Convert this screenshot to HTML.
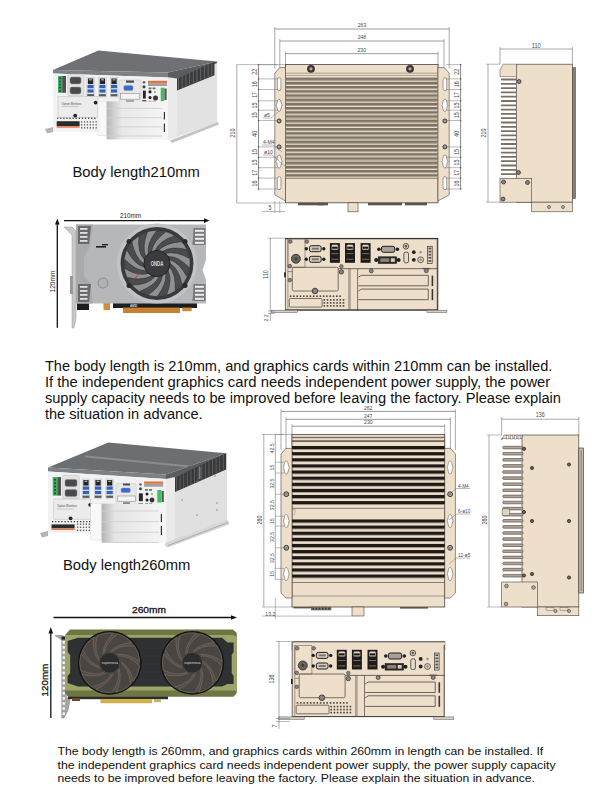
<!DOCTYPE html>
<html><head><meta charset="utf-8"><title>Body length</title>
<style>
html,body{margin:0;padding:0;background:#fff;width:607px;height:794px;overflow:hidden}
svg{display:block;font-family:"Liberation Sans",sans-serif}
</style></head>
<body>
<svg width="607" height="794" viewBox="0 0 607 794">
<rect width="607" height="794" fill="#fff"/>
<line x1="274.8" y1="29" x2="449.2" y2="29" stroke="#707070" stroke-width="0.7"/>
<line x1="274.8" y1="27" x2="274.8" y2="68.5" stroke="#707070" stroke-width="0.6"/>
<line x1="449.2" y1="27" x2="449.2" y2="68.5" stroke="#707070" stroke-width="0.6"/>
<text x="362.0" y="26.8" font-size="6.1" text-anchor="middle" fill="#4a4a4a"  textLength="8.55" lengthAdjust="spacingAndGlyphs">263</text>
<line x1="279.8" y1="41" x2="444.0" y2="41" stroke="#707070" stroke-width="0.7"/>
<line x1="279.8" y1="39" x2="279.8" y2="68.5" stroke="#707070" stroke-width="0.6"/>
<line x1="444.0" y1="39" x2="444.0" y2="68.5" stroke="#707070" stroke-width="0.6"/>
<text x="361.9" y="38.8" font-size="6.1" text-anchor="middle" fill="#4a4a4a"  textLength="8.55" lengthAdjust="spacingAndGlyphs">248</text>
<line x1="285.5" y1="53.7" x2="438.0" y2="53.7" stroke="#707070" stroke-width="0.7"/>
<line x1="285.5" y1="51.7" x2="285.5" y2="68.5" stroke="#707070" stroke-width="0.6"/>
<line x1="438.0" y1="51.7" x2="438.0" y2="68.5" stroke="#707070" stroke-width="0.6"/>
<text x="361.75" y="51.5" font-size="6.1" text-anchor="middle" fill="#4a4a4a"  textLength="8.55" lengthAdjust="spacingAndGlyphs">230</text>
<rect x="285.5" y="64.5" width="152.5" height="138.3" fill="#eedfcb" stroke="#4a4440" stroke-width="0.8" />
<polygon points="274.8,73.1 279.8,67.6 285.5,67.6 285.5,201 274.8,194.8" fill="#eedfcb" stroke="#4a4440" stroke-width="0.6"/>
<polygon points="449.2,73.1 444.2,67.6 438.0,67.6 438.0,201 449.2,194.8" fill="#eedfcb" stroke="#4a4440" stroke-width="0.6"/>
<line x1="285.5" y1="73.2" x2="438.0" y2="73.2" stroke="#7a6e62" stroke-width="0.6"/>
<line x1="285.5" y1="75.5" x2="438.0" y2="75.5" stroke="#8a7e72" stroke-width="0.6"/>
<rect x="285.5" y="77.6" width="152.5" height="2.3" fill="#7d7468" stroke="none" stroke-width="0.6" />
<rect x="285.5" y="79.89999999999999" width="152.5" height="0.9" fill="#a09486" stroke="none" stroke-width="0.6" />
<rect x="285.5" y="81.8" width="152.5" height="2.3" fill="#7d7468" stroke="none" stroke-width="0.6" />
<rect x="285.5" y="84.1" width="152.5" height="0.9" fill="#a09486" stroke="none" stroke-width="0.6" />
<rect x="285.5" y="86.0" width="152.5" height="2.3" fill="#7d7468" stroke="none" stroke-width="0.6" />
<rect x="285.5" y="88.3" width="152.5" height="0.9" fill="#a09486" stroke="none" stroke-width="0.6" />
<rect x="285.5" y="90.2" width="152.5" height="2.3" fill="#7d7468" stroke="none" stroke-width="0.6" />
<rect x="285.5" y="92.5" width="152.5" height="0.9" fill="#a09486" stroke="none" stroke-width="0.6" />
<rect x="285.5" y="94.4" width="152.5" height="2.3" fill="#7d7468" stroke="none" stroke-width="0.6" />
<rect x="285.5" y="96.7" width="152.5" height="0.9" fill="#a09486" stroke="none" stroke-width="0.6" />
<rect x="285.5" y="98.60000000000001" width="152.5" height="2.3" fill="#7d7468" stroke="none" stroke-width="0.6" />
<rect x="285.5" y="100.9" width="152.5" height="0.9" fill="#a09486" stroke="none" stroke-width="0.6" />
<rect x="285.5" y="102.80000000000001" width="152.5" height="2.3" fill="#7d7468" stroke="none" stroke-width="0.6" />
<rect x="285.5" y="105.10000000000001" width="152.5" height="0.9" fill="#a09486" stroke="none" stroke-width="0.6" />
<rect x="285.5" y="107.00000000000001" width="152.5" height="2.3" fill="#7d7468" stroke="none" stroke-width="0.6" />
<rect x="285.5" y="109.30000000000001" width="152.5" height="0.9" fill="#a09486" stroke="none" stroke-width="0.6" />
<rect x="285.5" y="111.20000000000002" width="152.5" height="2.3" fill="#7d7468" stroke="none" stroke-width="0.6" />
<rect x="285.5" y="113.50000000000001" width="152.5" height="0.9" fill="#a09486" stroke="none" stroke-width="0.6" />
<rect x="285.5" y="115.40000000000002" width="152.5" height="2.3" fill="#7d7468" stroke="none" stroke-width="0.6" />
<rect x="285.5" y="117.70000000000002" width="152.5" height="0.9" fill="#a09486" stroke="none" stroke-width="0.6" />
<rect x="285.5" y="119.60000000000002" width="152.5" height="2.3" fill="#7d7468" stroke="none" stroke-width="0.6" />
<rect x="285.5" y="121.90000000000002" width="152.5" height="0.9" fill="#a09486" stroke="none" stroke-width="0.6" />
<rect x="285.5" y="123.80000000000003" width="152.5" height="2.3" fill="#7d7468" stroke="none" stroke-width="0.6" />
<rect x="285.5" y="126.10000000000002" width="152.5" height="0.9" fill="#a09486" stroke="none" stroke-width="0.6" />
<rect x="285.5" y="128.00000000000003" width="152.5" height="2.3" fill="#7d7468" stroke="none" stroke-width="0.6" />
<rect x="285.5" y="130.30000000000004" width="152.5" height="0.9" fill="#a09486" stroke="none" stroke-width="0.6" />
<rect x="285.5" y="132.20000000000002" width="152.5" height="2.3" fill="#7d7468" stroke="none" stroke-width="0.6" />
<rect x="285.5" y="134.50000000000003" width="152.5" height="0.9" fill="#a09486" stroke="none" stroke-width="0.6" />
<rect x="285.5" y="136.4" width="152.5" height="2.3" fill="#7d7468" stroke="none" stroke-width="0.6" />
<rect x="285.5" y="138.70000000000002" width="152.5" height="0.9" fill="#a09486" stroke="none" stroke-width="0.6" />
<rect x="285.5" y="140.6" width="152.5" height="2.3" fill="#7d7468" stroke="none" stroke-width="0.6" />
<rect x="285.5" y="142.9" width="152.5" height="0.9" fill="#a09486" stroke="none" stroke-width="0.6" />
<rect x="285.5" y="144.79999999999998" width="152.5" height="2.3" fill="#7d7468" stroke="none" stroke-width="0.6" />
<rect x="285.5" y="147.1" width="152.5" height="0.9" fill="#a09486" stroke="none" stroke-width="0.6" />
<rect x="285.5" y="148.99999999999997" width="152.5" height="2.3" fill="#7d7468" stroke="none" stroke-width="0.6" />
<rect x="285.5" y="151.29999999999998" width="152.5" height="0.9" fill="#a09486" stroke="none" stroke-width="0.6" />
<rect x="285.5" y="153.19999999999996" width="152.5" height="2.3" fill="#7d7468" stroke="none" stroke-width="0.6" />
<rect x="285.5" y="155.49999999999997" width="152.5" height="0.9" fill="#a09486" stroke="none" stroke-width="0.6" />
<rect x="285.5" y="157.39999999999995" width="152.5" height="2.3" fill="#7d7468" stroke="none" stroke-width="0.6" />
<rect x="285.5" y="159.69999999999996" width="152.5" height="0.9" fill="#a09486" stroke="none" stroke-width="0.6" />
<rect x="285.5" y="161.59999999999994" width="152.5" height="2.3" fill="#7d7468" stroke="none" stroke-width="0.6" />
<rect x="285.5" y="163.89999999999995" width="152.5" height="0.9" fill="#a09486" stroke="none" stroke-width="0.6" />
<rect x="285.5" y="165.79999999999993" width="152.5" height="2.3" fill="#7d7468" stroke="none" stroke-width="0.6" />
<rect x="285.5" y="168.09999999999994" width="152.5" height="0.9" fill="#a09486" stroke="none" stroke-width="0.6" />
<rect x="285.5" y="169.99999999999991" width="152.5" height="2.3" fill="#7d7468" stroke="none" stroke-width="0.6" />
<rect x="285.5" y="172.29999999999993" width="152.5" height="0.9" fill="#a09486" stroke="none" stroke-width="0.6" />
<rect x="285.5" y="174.1999999999999" width="152.5" height="2.3" fill="#7d7468" stroke="none" stroke-width="0.6" />
<rect x="285.5" y="176.49999999999991" width="152.5" height="0.9" fill="#a09486" stroke="none" stroke-width="0.6" />
<line x1="285.5" y1="178.5" x2="438.0" y2="178.5" stroke="#6a6058" stroke-width="0.6"/>
<circle cx="311" cy="68.8" r="3.9" fill="#3a3432" stroke="none" stroke-width="0.6"/>
<circle cx="311" cy="68.8" r="1.6" fill="#b8b0a8" stroke="none" stroke-width="0.6"/>
<circle cx="410" cy="68.8" r="3.9" fill="#3a3432" stroke="none" stroke-width="0.6"/>
<circle cx="410" cy="68.8" r="1.6" fill="#b8b0a8" stroke="none" stroke-width="0.6"/>
<rect x="277.3" y="77.7" width="3.6" height="13" fill="#fff" stroke="#4a4440" stroke-width="0.5" rx="1.8"/>
<path d="M279.1,99.3 C281.35,99.3 280.6,103.02 282.1,105.3 C280.6,107.58 281.35,111.3 279.1,111.3 C276.85,111.3 277.6,107.58 276.1,105.3 C277.6,103.02 276.85,99.3 279.1,99.3 Z" fill="#fff" stroke="#4a4440" stroke-width="0.55"/>
<circle cx="279.1" cy="121" r="2.0" fill="#a49e96" stroke="#3a3634" stroke-width="1.0"/>
<circle cx="279.1" cy="146.9" r="2.0" fill="#a49e96" stroke="#3a3634" stroke-width="1.0"/>
<path d="M279.1,155.0 C281.35,155.0 280.6,159.03 282.1,161.5 C280.6,163.97 281.35,168.0 279.1,168.0 C276.85,168.0 277.6,163.97 276.1,161.5 C277.6,159.03 276.85,155.0 279.1,155.0 Z" fill="#fff" stroke="#4a4440" stroke-width="0.55"/>
<rect x="277.3" y="176.7" width="3.6" height="13" fill="#fff" stroke="#4a4440" stroke-width="0.5" rx="1.8"/>
<rect x="443.09999999999997" y="77.7" width="3.6" height="13" fill="#fff" stroke="#4a4440" stroke-width="0.5" rx="1.8"/>
<path d="M444.9,99.3 C447.15,99.3 446.4,103.02 447.9,105.3 C446.4,107.58 447.15,111.3 444.9,111.3 C442.65,111.3 443.4,107.58 441.9,105.3 C443.4,103.02 442.65,99.3 444.9,99.3 Z" fill="#fff" stroke="#4a4440" stroke-width="0.55"/>
<circle cx="444.9" cy="121" r="2.0" fill="#a49e96" stroke="#3a3634" stroke-width="1.0"/>
<circle cx="444.9" cy="146.9" r="2.0" fill="#a49e96" stroke="#3a3634" stroke-width="1.0"/>
<path d="M444.9,155.0 C447.15,155.0 446.4,159.03 447.9,161.5 C446.4,163.97 447.15,168.0 444.9,168.0 C442.65,168.0 443.4,163.97 441.9,161.5 C443.4,159.03 442.65,155.0 444.9,155.0 Z" fill="#fff" stroke="#4a4440" stroke-width="0.55"/>
<rect x="443.09999999999997" y="176.7" width="3.6" height="13" fill="#fff" stroke="#4a4440" stroke-width="0.5" rx="1.8"/>
<line x1="258.5" y1="64.6" x2="258.5" y2="189.0" stroke="#555" stroke-width="0.7"/>
<line x1="460.6" y1="64.6" x2="460.6" y2="189.0" stroke="#555" stroke-width="0.7"/>
<line x1="258.5" y1="64.6" x2="277.8" y2="64.6" stroke="#777" stroke-width="0.5"/>
<line x1="446.2" y1="64.6" x2="460.6" y2="64.6" stroke="#777" stroke-width="0.5"/>
<rect x="257.9" y="63.89999999999999" width="1.2" height="1.4" fill="#555" stroke="none" stroke-width="0.6" />
<rect x="460.0" y="63.89999999999999" width="1.2" height="1.4" fill="#555" stroke="none" stroke-width="0.6" />
<line x1="258.5" y1="78.9" x2="277.8" y2="78.9" stroke="#777" stroke-width="0.5"/>
<line x1="446.2" y1="78.9" x2="460.6" y2="78.9" stroke="#777" stroke-width="0.5"/>
<rect x="257.9" y="78.2" width="1.2" height="1.4" fill="#555" stroke="none" stroke-width="0.6" />
<rect x="460.0" y="78.2" width="1.2" height="1.4" fill="#555" stroke="none" stroke-width="0.6" />
<line x1="258.5" y1="89.5" x2="277.8" y2="89.5" stroke="#777" stroke-width="0.5"/>
<line x1="446.2" y1="89.5" x2="460.6" y2="89.5" stroke="#777" stroke-width="0.5"/>
<rect x="257.9" y="88.8" width="1.2" height="1.4" fill="#555" stroke="none" stroke-width="0.6" />
<rect x="460.0" y="88.8" width="1.2" height="1.4" fill="#555" stroke="none" stroke-width="0.6" />
<line x1="258.5" y1="100.8" x2="277.8" y2="100.8" stroke="#777" stroke-width="0.5"/>
<line x1="446.2" y1="100.8" x2="460.6" y2="100.8" stroke="#777" stroke-width="0.5"/>
<rect x="257.9" y="100.1" width="1.2" height="1.4" fill="#555" stroke="none" stroke-width="0.6" />
<rect x="460.0" y="100.1" width="1.2" height="1.4" fill="#555" stroke="none" stroke-width="0.6" />
<line x1="258.5" y1="110.2" x2="277.8" y2="110.2" stroke="#777" stroke-width="0.5"/>
<line x1="446.2" y1="110.2" x2="460.6" y2="110.2" stroke="#777" stroke-width="0.5"/>
<rect x="257.9" y="109.5" width="1.2" height="1.4" fill="#555" stroke="none" stroke-width="0.6" />
<rect x="460.0" y="109.5" width="1.2" height="1.4" fill="#555" stroke="none" stroke-width="0.6" />
<line x1="258.5" y1="120.5" x2="277.8" y2="120.5" stroke="#777" stroke-width="0.5"/>
<line x1="446.2" y1="120.5" x2="460.6" y2="120.5" stroke="#777" stroke-width="0.5"/>
<rect x="257.9" y="119.8" width="1.2" height="1.4" fill="#555" stroke="none" stroke-width="0.6" />
<rect x="460.0" y="119.8" width="1.2" height="1.4" fill="#555" stroke="none" stroke-width="0.6" />
<line x1="258.5" y1="146.9" x2="277.8" y2="146.9" stroke="#777" stroke-width="0.5"/>
<line x1="446.2" y1="146.9" x2="460.6" y2="146.9" stroke="#777" stroke-width="0.5"/>
<rect x="257.9" y="146.20000000000002" width="1.2" height="1.4" fill="#555" stroke="none" stroke-width="0.6" />
<rect x="460.0" y="146.20000000000002" width="1.2" height="1.4" fill="#555" stroke="none" stroke-width="0.6" />
<line x1="258.5" y1="157.3" x2="277.8" y2="157.3" stroke="#777" stroke-width="0.5"/>
<line x1="446.2" y1="157.3" x2="460.6" y2="157.3" stroke="#777" stroke-width="0.5"/>
<rect x="257.9" y="156.60000000000002" width="1.2" height="1.4" fill="#555" stroke="none" stroke-width="0.6" />
<rect x="460.0" y="156.60000000000002" width="1.2" height="1.4" fill="#555" stroke="none" stroke-width="0.6" />
<line x1="258.5" y1="167.7" x2="277.8" y2="167.7" stroke="#777" stroke-width="0.5"/>
<line x1="446.2" y1="167.7" x2="460.6" y2="167.7" stroke="#777" stroke-width="0.5"/>
<rect x="257.9" y="167.0" width="1.2" height="1.4" fill="#555" stroke="none" stroke-width="0.6" />
<rect x="460.0" y="167.0" width="1.2" height="1.4" fill="#555" stroke="none" stroke-width="0.6" />
<line x1="258.5" y1="178.1" x2="277.8" y2="178.1" stroke="#777" stroke-width="0.5"/>
<line x1="446.2" y1="178.1" x2="460.6" y2="178.1" stroke="#777" stroke-width="0.5"/>
<rect x="257.9" y="177.4" width="1.2" height="1.4" fill="#555" stroke="none" stroke-width="0.6" />
<rect x="460.0" y="177.4" width="1.2" height="1.4" fill="#555" stroke="none" stroke-width="0.6" />
<line x1="258.5" y1="189.0" x2="277.8" y2="189.0" stroke="#777" stroke-width="0.5"/>
<line x1="446.2" y1="189.0" x2="460.6" y2="189.0" stroke="#777" stroke-width="0.5"/>
<rect x="257.9" y="188.3" width="1.2" height="1.4" fill="#555" stroke="none" stroke-width="0.6" />
<rect x="460.0" y="188.3" width="1.2" height="1.4" fill="#555" stroke="none" stroke-width="0.6" />
<text x="255.5" y="71.75" font-size="6.34" text-anchor="middle" fill="#4a4a4a" dominant-baseline="middle" textLength="5.92" lengthAdjust="spacingAndGlyphs" transform="rotate(-90 255.5 71.75)">22</text>
<text x="457.5" y="71.75" font-size="6.34" text-anchor="middle" fill="#4a4a4a" dominant-baseline="middle" textLength="5.92" lengthAdjust="spacingAndGlyphs" transform="rotate(-90 457.5 71.75)">22</text>
<text x="255.5" y="84.2" font-size="6.34" text-anchor="middle" fill="#4a4a4a" dominant-baseline="middle" textLength="5.92" lengthAdjust="spacingAndGlyphs" transform="rotate(-90 255.5 84.2)">16</text>
<text x="457.5" y="84.2" font-size="6.34" text-anchor="middle" fill="#4a4a4a" dominant-baseline="middle" textLength="5.92" lengthAdjust="spacingAndGlyphs" transform="rotate(-90 457.5 84.2)">16</text>
<text x="255.5" y="95.15" font-size="6.34" text-anchor="middle" fill="#4a4a4a" dominant-baseline="middle" textLength="5.92" lengthAdjust="spacingAndGlyphs" transform="rotate(-90 255.5 95.15)">17</text>
<text x="457.5" y="95.15" font-size="6.34" text-anchor="middle" fill="#4a4a4a" dominant-baseline="middle" textLength="5.92" lengthAdjust="spacingAndGlyphs" transform="rotate(-90 457.5 95.15)">17</text>
<text x="255.5" y="105.5" font-size="6.34" text-anchor="middle" fill="#4a4a4a" dominant-baseline="middle" textLength="5.92" lengthAdjust="spacingAndGlyphs" transform="rotate(-90 255.5 105.5)">15</text>
<text x="457.5" y="105.5" font-size="6.34" text-anchor="middle" fill="#4a4a4a" dominant-baseline="middle" textLength="5.92" lengthAdjust="spacingAndGlyphs" transform="rotate(-90 457.5 105.5)">15</text>
<text x="255.5" y="115.35" font-size="6.34" text-anchor="middle" fill="#4a4a4a" dominant-baseline="middle" textLength="5.92" lengthAdjust="spacingAndGlyphs" transform="rotate(-90 255.5 115.35)">15</text>
<text x="457.5" y="115.35" font-size="6.34" text-anchor="middle" fill="#4a4a4a" dominant-baseline="middle" textLength="5.92" lengthAdjust="spacingAndGlyphs" transform="rotate(-90 457.5 115.35)">15</text>
<text x="255.5" y="133.7" font-size="6.34" text-anchor="middle" fill="#4a4a4a" dominant-baseline="middle" textLength="5.92" lengthAdjust="spacingAndGlyphs" transform="rotate(-90 255.5 133.7)">40</text>
<text x="457.5" y="133.7" font-size="6.34" text-anchor="middle" fill="#4a4a4a" dominant-baseline="middle" textLength="5.92" lengthAdjust="spacingAndGlyphs" transform="rotate(-90 457.5 133.7)">40</text>
<text x="255.5" y="152.10000000000002" font-size="6.34" text-anchor="middle" fill="#4a4a4a" dominant-baseline="middle" textLength="5.92" lengthAdjust="spacingAndGlyphs" transform="rotate(-90 255.5 152.10000000000002)">15</text>
<text x="457.5" y="152.10000000000002" font-size="6.34" text-anchor="middle" fill="#4a4a4a" dominant-baseline="middle" textLength="5.92" lengthAdjust="spacingAndGlyphs" transform="rotate(-90 457.5 152.10000000000002)">15</text>
<text x="255.5" y="162.5" font-size="6.34" text-anchor="middle" fill="#4a4a4a" dominant-baseline="middle" textLength="5.92" lengthAdjust="spacingAndGlyphs" transform="rotate(-90 255.5 162.5)">15</text>
<text x="457.5" y="162.5" font-size="6.34" text-anchor="middle" fill="#4a4a4a" dominant-baseline="middle" textLength="5.92" lengthAdjust="spacingAndGlyphs" transform="rotate(-90 457.5 162.5)">15</text>
<text x="255.5" y="172.89999999999998" font-size="6.34" text-anchor="middle" fill="#4a4a4a" dominant-baseline="middle" textLength="5.92" lengthAdjust="spacingAndGlyphs" transform="rotate(-90 255.5 172.89999999999998)">17</text>
<text x="457.5" y="172.89999999999998" font-size="6.34" text-anchor="middle" fill="#4a4a4a" dominant-baseline="middle" textLength="5.92" lengthAdjust="spacingAndGlyphs" transform="rotate(-90 457.5 172.89999999999998)">17</text>
<text x="255.5" y="183.55" font-size="6.34" text-anchor="middle" fill="#4a4a4a" dominant-baseline="middle" textLength="5.92" lengthAdjust="spacingAndGlyphs" transform="rotate(-90 255.5 183.55)">16</text>
<text x="457.5" y="183.55" font-size="6.34" text-anchor="middle" fill="#4a4a4a" dominant-baseline="middle" textLength="5.92" lengthAdjust="spacingAndGlyphs" transform="rotate(-90 457.5 183.55)">16</text>
<line x1="236.8" y1="64.6" x2="236.8" y2="203" stroke="#707070" stroke-width="0.6"/>
<line x1="236.8" y1="64.6" x2="285" y2="64.6" stroke="#777" stroke-width="0.5"/>
<line x1="236.8" y1="203" x2="285" y2="203" stroke="#777" stroke-width="0.5"/>
<text x="233.5" y="133" font-size="6.34" text-anchor="middle" fill="#4a4a4a" dominant-baseline="middle" textLength="8.88" lengthAdjust="spacingAndGlyphs" transform="rotate(-90 233.5 133)">210</text>
<text x="264" y="116.5" font-size="6.1" text-anchor="start" fill="#4a4a4a"  textLength="5.98" lengthAdjust="spacingAndGlyphs">ø5</text>
<line x1="263" y1="118" x2="271" y2="118" stroke="#777" stroke-width="0.5"/>
<line x1="271" y1="118" x2="278" y2="112" stroke="#777" stroke-width="0.5"/>
<text x="263" y="143.5" font-size="6.1" text-anchor="start" fill="#4a4a4a"  textLength="11.67" lengthAdjust="spacingAndGlyphs">4-M4</text>
<line x1="262" y1="145" x2="273" y2="145" stroke="#777" stroke-width="0.5"/>
<line x1="273" y1="145" x2="282" y2="152" stroke="#777" stroke-width="0.5"/>
<text x="264" y="153.5" font-size="6.1" text-anchor="start" fill="#4a4a4a"  textLength="8.83" lengthAdjust="spacingAndGlyphs">ø10</text>
<line x1="263" y1="155" x2="272" y2="155" stroke="#777" stroke-width="0.5"/>
<line x1="272" y1="155" x2="285" y2="166" stroke="#777" stroke-width="0.5"/>
<rect x="298" y="202.8" width="26" height="2.5" fill="#5a544e" stroke="none" stroke-width="0.6" />
<rect x="318" y="202.8" width="10" height="2.5" fill="#5a544e" stroke="none" stroke-width="0.6" />
<rect x="368" y="202.8" width="34" height="2.5" fill="#5a544e" stroke="none" stroke-width="0.6" />
<rect x="405" y="202.8" width="22" height="2.5" fill="#5a544e" stroke="none" stroke-width="0.6" />
<rect x="348" y="202.8" width="10" height="9" fill="#eedfcb" stroke="#4a4440" stroke-width="0.6" />
<line x1="274.8" y1="201" x2="274.8" y2="213" stroke="#707070" stroke-width="0.5"/>
<line x1="279.8" y1="201" x2="279.8" y2="213" stroke="#707070" stroke-width="0.5"/>
<line x1="262" y1="211.5" x2="285" y2="211.5" stroke="#707070" stroke-width="0.5"/>
<text x="270" y="210" font-size="6.34" text-anchor="middle" fill="#4a4a4a"  textLength="2.96" lengthAdjust="spacingAndGlyphs">5</text>
<line x1="500.0" y1="49" x2="572.4" y2="49" stroke="#707070" stroke-width="0.6"/>
<line x1="500.0" y1="47" x2="500.0" y2="64.2" stroke="#707070" stroke-width="0.6"/>
<line x1="572.4" y1="47" x2="572.4" y2="64.2" stroke="#707070" stroke-width="0.6"/>
<text x="536.2" y="47.6" font-size="6.34" text-anchor="middle" fill="#4a4a4a"  textLength="8.88" lengthAdjust="spacingAndGlyphs">110</text>
<line x1="488" y1="64.2" x2="488" y2="202.2" stroke="#707070" stroke-width="0.6"/>
<line x1="486" y1="64.2" x2="500.0" y2="64.2" stroke="#707070" stroke-width="0.5"/>
<line x1="486" y1="202.2" x2="500.0" y2="202.2" stroke="#707070" stroke-width="0.5"/>
<text x="484" y="133" font-size="6.34" text-anchor="middle" fill="#4a4a4a" dominant-baseline="middle" textLength="8.88" lengthAdjust="spacingAndGlyphs" transform="rotate(-90 484 133)">210</text>
<rect x="516.6" y="64.2" width="55.799999999999955" height="138.0" fill="#eedfcb" stroke="#4a4440" stroke-width="0.7" />
<rect x="572.4" y="67.6" width="3.2" height="131" fill="#857d72" stroke="#4a4440" stroke-width="0.5" />
<polygon points="500.0,70 503,64.2 516.6,64.2 516.6,76.6 500.0,76.6" fill="#eedfcb" stroke="#4a4440" stroke-width="0.5"/>
<rect x="500.8" y="78.6" width="15.800000000000022" height="1.8" fill="#7a7064" stroke="none" stroke-width="0" rx="0.8"/>
<rect x="500.8" y="82.89999999999999" width="15.800000000000022" height="1.8" fill="#7a7064" stroke="none" stroke-width="0" rx="0.8"/>
<rect x="500.8" y="87.19999999999999" width="15.800000000000022" height="1.8" fill="#7a7064" stroke="none" stroke-width="0" rx="0.8"/>
<rect x="500.8" y="91.49999999999999" width="15.800000000000022" height="1.8" fill="#7a7064" stroke="none" stroke-width="0" rx="0.8"/>
<rect x="500.8" y="95.79999999999998" width="15.800000000000022" height="1.8" fill="#7a7064" stroke="none" stroke-width="0" rx="0.8"/>
<rect x="500.8" y="100.09999999999998" width="15.800000000000022" height="1.8" fill="#7a7064" stroke="none" stroke-width="0" rx="0.8"/>
<rect x="500.8" y="104.39999999999998" width="15.800000000000022" height="1.8" fill="#7a7064" stroke="none" stroke-width="0" rx="0.8"/>
<rect x="500.8" y="108.69999999999997" width="15.800000000000022" height="1.8" fill="#7a7064" stroke="none" stroke-width="0" rx="0.8"/>
<rect x="500.8" y="112.99999999999997" width="15.800000000000022" height="1.8" fill="#7a7064" stroke="none" stroke-width="0" rx="0.8"/>
<rect x="500.8" y="117.29999999999997" width="15.800000000000022" height="1.8" fill="#7a7064" stroke="none" stroke-width="0" rx="0.8"/>
<rect x="500.8" y="121.59999999999997" width="15.800000000000022" height="1.8" fill="#7a7064" stroke="none" stroke-width="0" rx="0.8"/>
<rect x="500.8" y="125.89999999999996" width="15.800000000000022" height="1.8" fill="#7a7064" stroke="none" stroke-width="0" rx="0.8"/>
<rect x="500.8" y="130.19999999999996" width="15.800000000000022" height="1.8" fill="#7a7064" stroke="none" stroke-width="0" rx="0.8"/>
<rect x="500.8" y="134.49999999999997" width="15.800000000000022" height="1.8" fill="#7a7064" stroke="none" stroke-width="0" rx="0.8"/>
<rect x="500.8" y="138.79999999999998" width="15.800000000000022" height="1.8" fill="#7a7064" stroke="none" stroke-width="0" rx="0.8"/>
<rect x="500.8" y="143.1" width="15.800000000000022" height="1.8" fill="#7a7064" stroke="none" stroke-width="0" rx="0.8"/>
<rect x="500.8" y="147.4" width="15.800000000000022" height="1.8" fill="#7a7064" stroke="none" stroke-width="0" rx="0.8"/>
<rect x="500.8" y="151.70000000000002" width="15.800000000000022" height="1.8" fill="#7a7064" stroke="none" stroke-width="0" rx="0.8"/>
<rect x="500.8" y="156.00000000000003" width="15.800000000000022" height="1.8" fill="#7a7064" stroke="none" stroke-width="0" rx="0.8"/>
<rect x="500.8" y="160.30000000000004" width="15.800000000000022" height="1.8" fill="#7a7064" stroke="none" stroke-width="0" rx="0.8"/>
<rect x="500.8" y="164.60000000000005" width="15.800000000000022" height="1.8" fill="#7a7064" stroke="none" stroke-width="0" rx="0.8"/>
<rect x="500.8" y="168.90000000000006" width="15.800000000000022" height="1.8" fill="#7a7064" stroke="none" stroke-width="0" rx="0.8"/>
<rect x="500.8" y="173.20000000000007" width="15.800000000000022" height="1.8" fill="#7a7064" stroke="none" stroke-width="0" rx="0.8"/>
<rect x="500.0" y="178.3" width="31.700000000000045" height="23.899999999999977" fill="#eedfcb" stroke="#4a4440" stroke-width="0.6" />
<rect x="531.7" y="202.2" width="40.69999999999993" height="9.6" fill="#eedfcb" stroke="#4a4440" stroke-width="0.6" />
<circle cx="519" cy="81.5" r="2.0" fill="#8a847e" stroke="#333" stroke-width="0.8"/>
<circle cx="518.5" cy="172.5" r="2.0" fill="#8a847e" stroke="#333" stroke-width="0.8"/>
<circle cx="503.5" cy="182" r="2.0" fill="#8a847e" stroke="#333" stroke-width="0.8"/>
<circle cx="527.5" cy="182.5" r="2.0" fill="#8a847e" stroke="#333" stroke-width="0.8"/>
<circle cx="503" cy="199" r="2.0" fill="#8a847e" stroke="#333" stroke-width="0.8"/>
<circle cx="549" cy="207" r="1.6" fill="#aaa" stroke="#444" stroke-width="0.6"/>
<circle cx="563" cy="207" r="1.6" fill="#aaa" stroke="#444" stroke-width="0.6"/>
<g transform="translate(285.3 238.3) scale(1 1.0)">
<rect x="0" y="0" width="152.6" height="71.9" fill="#eedfcb" stroke="#4a4440" stroke-width="0.8" />
<line x1="0" y1="0.3" x2="152.6" y2="0.3" stroke="#3a3634" stroke-width="1.2"/>
<line x1="0" y1="71.60000000000001" x2="152.6" y2="71.60000000000001" stroke="#3a3634" stroke-width="1.0"/>
<line x1="2.6" y1="0" x2="2.6" y2="71.9" stroke="#6a625a" stroke-width="0.6"/>
<line x1="152.0" y1="0" x2="152.0" y2="71.9" stroke="#3a3634" stroke-width="0.9"/>
<rect x="-1.2" y="34" width="1.6" height="5" fill="#222" stroke="none" stroke-width="0.6" />
<polygon points="2.6,0.5 19.7,0.5 19.7,29 2.6,29" fill="none" stroke="#6a625a" stroke-width="0.6"/>
<circle cx="10.6" cy="20.5" r="4.5" fill="#6a625c" stroke="#2a2a2a" stroke-width="0.8"/>
<circle cx="10.6" cy="20.5" r="1.4" fill="#3a3a3a" stroke="none" stroke-width="0.6"/>
<circle cx="5" cy="3.3" r="1.8" fill="#8a847c" stroke="#3a3634" stroke-width="0.6"/>
<circle cx="21.5" cy="3.3" r="1.8" fill="#8a847c" stroke="#3a3634" stroke-width="0.6"/>
<circle cx="4.5" cy="27.8" r="1.8" fill="#8a847c" stroke="#3a3634" stroke-width="0.6"/>
<circle cx="4.5" cy="41.8" r="1.8" fill="#8a847c" stroke="#3a3634" stroke-width="0.6"/>
<rect x="24.2" y="7.4" width="11.6" height="6" fill="#d8ccb8" stroke="#1e1e1e" stroke-width="1.0" rx="1.8"/>
<rect x="26.5" y="9.4" width="7" height="2" fill="#777" stroke="none" stroke-width="0.6" />
<circle cx="21" cy="10.4" r="1.7" fill="#1e1e1e" stroke="none" stroke-width="0.6"/>
<circle cx="38.5" cy="10.4" r="1.7" fill="#1e1e1e" stroke="none" stroke-width="0.6"/>
<rect x="24.2" y="18.0" width="11.6" height="6" fill="#d8ccb8" stroke="#1e1e1e" stroke-width="1.0" rx="1.8"/>
<rect x="26.5" y="20.0" width="7" height="2" fill="#777" stroke="none" stroke-width="0.6" />
<circle cx="21" cy="21.0" r="1.7" fill="#1e1e1e" stroke="none" stroke-width="0.6"/>
<circle cx="38.5" cy="21.0" r="1.7" fill="#1e1e1e" stroke="none" stroke-width="0.6"/>
<rect x="44.6" y="4.8" width="10" height="19.7" fill="#1e1c1a" stroke="none" stroke-width="0.6" />
<rect x="46.1" y="6.2" width="7" height="5.5" fill="#e8dccc" stroke="#1e1c1a" stroke-width="0.5" rx="1.5"/>
<rect x="46.800000000000004" y="8.3" width="5.6" height="2.2" fill="#1e1c1a" stroke="none" stroke-width="0.6" />
<rect x="46.1" y="15" width="7" height="0.8" fill="#8a8078" stroke="none" stroke-width="0.6" />
<rect x="46.1" y="20.5" width="7" height="0.8" fill="#8a8078" stroke="none" stroke-width="0.6" />
<rect x="59.7" y="4.8" width="10" height="19.7" fill="#1e1c1a" stroke="none" stroke-width="0.6" />
<rect x="61.2" y="6.2" width="7" height="5.5" fill="#e8dccc" stroke="#1e1c1a" stroke-width="0.5" rx="1.5"/>
<rect x="61.900000000000006" y="8.3" width="5.6" height="2.2" fill="#1e1c1a" stroke="none" stroke-width="0.6" />
<rect x="61.2" y="15" width="7" height="0.8" fill="#8a8078" stroke="none" stroke-width="0.6" />
<rect x="61.2" y="20.5" width="7" height="0.8" fill="#8a8078" stroke="none" stroke-width="0.6" />
<rect x="75.3" y="4.8" width="10" height="19.7" fill="#1e1c1a" stroke="none" stroke-width="0.6" />
<rect x="76.8" y="6.2" width="7" height="5.5" fill="#e8dccc" stroke="#1e1c1a" stroke-width="0.5" rx="1.5"/>
<rect x="77.5" y="8.3" width="5.6" height="2.2" fill="#1e1c1a" stroke="none" stroke-width="0.6" />
<rect x="76.8" y="15" width="7" height="0.8" fill="#8a8078" stroke="none" stroke-width="0.6" />
<rect x="76.8" y="20.5" width="7" height="0.8" fill="#8a8078" stroke="none" stroke-width="0.6" />
<rect x="96.2" y="8" width="13.2" height="6" fill="#a8a098" stroke="#1e1e1e" stroke-width="1.0" rx="1.8"/>
<circle cx="93.6" cy="11" r="1.8" fill="#1e1e1e" stroke="none" stroke-width="0.6"/>
<circle cx="112.1" cy="11" r="1.8" fill="#1e1e1e" stroke="none" stroke-width="0.6"/>
<rect x="92.9" y="18.5" width="18.5" height="6.6" fill="#2a2826" stroke="#1e1e1e" stroke-width="0.6" />
<rect x="95" y="20" width="9" height="3.6" fill="#8a8078" stroke="none" stroke-width="0.6" />
<rect x="105.5" y="20" width="4" height="3.6" fill="#d8ccb8" stroke="none" stroke-width="0.6" />
<circle cx="90.9" cy="21.8" r="2.0" fill="#1e1e1e" stroke="none" stroke-width="0.6"/>
<circle cx="113.3" cy="21.8" r="2.0" fill="#1e1e1e" stroke="none" stroke-width="0.6"/>
<rect x="118.6" y="13.9" width="4.6" height="10.6" fill="#e8dccc" stroke="#3a3634" stroke-width="0.8" rx="1.6"/>
<circle cx="120.6" cy="8" r="2.8" fill="#d8ccb8" stroke="#3a3634" stroke-width="0.8"/>
<circle cx="120.6" cy="8" r="1.2" fill="#555" stroke="none" stroke-width="0.6"/>
<circle cx="128.5" cy="13.9" r="1.9" fill="#222" stroke="none" stroke-width="0.6"/>
<circle cx="128.5" cy="21.5" r="1.9" fill="#222" stroke="none" stroke-width="0.6"/>
<circle cx="135.3" cy="13.9" r="0.9" fill="#aaa" stroke="#555" stroke-width="0.4"/>
<circle cx="135.3" cy="21.5" r="2.9" fill="#e8dccc" stroke="#3a3634" stroke-width="0.8"/>
<circle cx="135.3" cy="21.5" r="1.2" fill="#888" stroke="none" stroke-width="0.6"/>
<rect x="142.3" y="8" width="4.6" height="17.1" fill="#e8dccc" stroke="#3a3634" stroke-width="0.7" />
<rect x="143.2" y="9.3" width="2.8" height="1.8" fill="#555" stroke="none" stroke-width="0.6" />
<rect x="143.2" y="12.4" width="2.8" height="1.8" fill="#555" stroke="none" stroke-width="0.6" />
<rect x="143.2" y="15.5" width="2.8" height="1.8" fill="#555" stroke="none" stroke-width="0.6" />
<rect x="143.2" y="18.6" width="2.8" height="1.8" fill="#555" stroke="none" stroke-width="0.6" />
<rect x="143.2" y="21.700000000000003" width="2.8" height="1.8" fill="#555" stroke="none" stroke-width="0.6" />
<rect x="7" y="29" width="45.9" height="23.7" fill="none" stroke="#5a524a" stroke-width="0.8" rx="1.5"/>
<circle cx="29.7" cy="52.7" r="2.8" fill="#8a847c" stroke="#2a2a2a" stroke-width="0.8"/>
<line x1="2.6" y1="33.3" x2="7" y2="33.3" stroke="#5a524a" stroke-width="0.6"/>
<rect x="4.5" y="57.1" width="1.6" height="1.6" fill="#4a4440" stroke="none" stroke-width="0.6" />
<rect x="7.8" y="57.1" width="1.6" height="1.6" fill="#4a4440" stroke="none" stroke-width="0.6" />
<rect x="11.1" y="57.1" width="1.6" height="1.6" fill="#4a4440" stroke="none" stroke-width="0.6" />
<rect x="14.399999999999999" y="57.1" width="1.6" height="1.6" fill="#4a4440" stroke="none" stroke-width="0.6" />
<rect x="17.7" y="57.1" width="1.6" height="1.6" fill="#4a4440" stroke="none" stroke-width="0.6" />
<rect x="21.0" y="57.1" width="1.6" height="1.6" fill="#4a4440" stroke="none" stroke-width="0.6" />
<rect x="24.299999999999997" y="57.1" width="1.6" height="1.6" fill="#4a4440" stroke="none" stroke-width="0.6" />
<rect x="27.599999999999998" y="57.1" width="1.6" height="1.6" fill="#4a4440" stroke="none" stroke-width="0.6" />
<rect x="30.9" y="57.1" width="1.6" height="1.6" fill="#4a4440" stroke="none" stroke-width="0.6" />
<rect x="34.2" y="57.1" width="1.6" height="1.6" fill="#4a4440" stroke="none" stroke-width="0.6" />
<rect x="37.5" y="57.1" width="1.6" height="1.6" fill="#4a4440" stroke="none" stroke-width="0.6" />
<rect x="40.8" y="57.1" width="1.6" height="1.6" fill="#4a4440" stroke="none" stroke-width="0.6" />
<rect x="44.099999999999994" y="57.1" width="1.6" height="1.6" fill="#4a4440" stroke="none" stroke-width="0.6" />
<rect x="47.4" y="57.1" width="1.6" height="1.6" fill="#4a4440" stroke="none" stroke-width="0.6" />
<rect x="50.699999999999996" y="57.1" width="1.6" height="1.6" fill="#4a4440" stroke="none" stroke-width="0.6" />
<rect x="54.0" y="57.1" width="1.6" height="1.6" fill="#4a4440" stroke="none" stroke-width="0.6" />
<rect x="4" y="60.2" width="32.8" height="8.6" fill="none" stroke="#5a524a" stroke-width="0.8" rx="1"/>
<rect x="38.2" y="60.8" width="1.6" height="1.6" fill="#4a4440" stroke="none" stroke-width="0.6" />
<rect x="41.400000000000006" y="60.8" width="1.6" height="1.6" fill="#4a4440" stroke="none" stroke-width="0.6" />
<rect x="44.6" y="60.8" width="1.6" height="1.6" fill="#4a4440" stroke="none" stroke-width="0.6" />
<rect x="47.800000000000004" y="60.8" width="1.6" height="1.6" fill="#4a4440" stroke="none" stroke-width="0.6" />
<rect x="51.0" y="60.8" width="1.6" height="1.6" fill="#4a4440" stroke="none" stroke-width="0.6" />
<rect x="54.2" y="60.8" width="1.6" height="1.6" fill="#4a4440" stroke="none" stroke-width="0.6" />
<rect x="57.400000000000006" y="60.8" width="1.6" height="1.6" fill="#4a4440" stroke="none" stroke-width="0.6" />
<rect x="38.2" y="63.8" width="1.6" height="1.6" fill="#4a4440" stroke="none" stroke-width="0.6" />
<rect x="41.400000000000006" y="63.8" width="1.6" height="1.6" fill="#4a4440" stroke="none" stroke-width="0.6" />
<rect x="44.6" y="63.8" width="1.6" height="1.6" fill="#4a4440" stroke="none" stroke-width="0.6" />
<rect x="47.800000000000004" y="63.8" width="1.6" height="1.6" fill="#4a4440" stroke="none" stroke-width="0.6" />
<rect x="51.0" y="63.8" width="1.6" height="1.6" fill="#4a4440" stroke="none" stroke-width="0.6" />
<rect x="54.2" y="63.8" width="1.6" height="1.6" fill="#4a4440" stroke="none" stroke-width="0.6" />
<rect x="57.400000000000006" y="63.8" width="1.6" height="1.6" fill="#4a4440" stroke="none" stroke-width="0.6" />
<rect x="38.2" y="66.8" width="1.6" height="1.6" fill="#4a4440" stroke="none" stroke-width="0.6" />
<rect x="41.400000000000006" y="66.8" width="1.6" height="1.6" fill="#4a4440" stroke="none" stroke-width="0.6" />
<rect x="44.6" y="66.8" width="1.6" height="1.6" fill="#4a4440" stroke="none" stroke-width="0.6" />
<rect x="47.800000000000004" y="66.8" width="1.6" height="1.6" fill="#4a4440" stroke="none" stroke-width="0.6" />
<rect x="51.0" y="66.8" width="1.6" height="1.6" fill="#4a4440" stroke="none" stroke-width="0.6" />
<rect x="54.2" y="66.8" width="1.6" height="1.6" fill="#4a4440" stroke="none" stroke-width="0.6" />
<rect x="57.400000000000006" y="66.8" width="1.6" height="1.6" fill="#4a4440" stroke="none" stroke-width="0.6" />
<line x1="63.7" y1="30.4" x2="63.7" y2="71.9" stroke="#4a4440" stroke-width="0.7"/>
<line x1="65.0" y1="30.4" x2="65.0" y2="71.9" stroke="#6a625a" stroke-width="0.5"/>
<line x1="72.3" y1="30.4" x2="72.3" y2="71.9" stroke="#4a4440" stroke-width="0.7"/>
<line x1="52.9" y1="30.4" x2="152.6" y2="30.4" stroke="#4a4440" stroke-width="0.8"/>
<circle cx="56.1" cy="33.6" r="2.2" fill="#8a847c" stroke="#2a2a2a" stroke-width="0.7"/>
<circle cx="56.1" cy="28" r="1.8" fill="#8a847c" stroke="#2a2a2a" stroke-width="0.5"/>
<path d="M73,39 L76,37 L143,37 L143,47.5 L73,47.5" fill="none" stroke="#4a4440" stroke-width="0.8"/>
<path d="M73,52.8 L76,50.8 L143,50.8 L143,61.4 L73,61.4" fill="none" stroke="#4a4440" stroke-width="0.8"/>
<circle cx="86" cy="32.6" r="2" fill="#8a847c" stroke="#2a2a2a" stroke-width="0.6"/>
<circle cx="141" cy="32.4" r="2.1" fill="#8a847c" stroke="#2a2a2a" stroke-width="0.6"/>
<rect x="137" y="29.6" width="8" height="1.2" fill="#555" stroke="none" stroke-width="0.6" />
<rect x="146.3" y="37.3" width="1.6" height="10.5" fill="#3a3634" stroke="none" stroke-width="0.6" />
<rect x="146.3" y="50.8" width="1.6" height="11" fill="#3a3634" stroke="none" stroke-width="0.6" />
<rect x="-14" y="71.9" width="26" height="2.4" fill="#d8d0c4" stroke="#555" stroke-width="0.5" />
<rect x="141.6" y="71.9" width="20" height="2.4" fill="#d8d0c4" stroke="#555" stroke-width="0.5" />
</g>
<line x1="270.3" y1="238.2" x2="270.3" y2="321" stroke="#707070" stroke-width="0.6"/>
<line x1="268" y1="238.2" x2="285" y2="238.2" stroke="#707070" stroke-width="0.5"/>
<line x1="268" y1="311" x2="275" y2="311" stroke="#707070" stroke-width="0.5"/>
<line x1="268" y1="313.5" x2="275" y2="313.5" stroke="#707070" stroke-width="0.5"/>
<text x="266" y="274.5" font-size="6.34" text-anchor="middle" fill="#4a4a4a" dominant-baseline="middle" textLength="8.88" lengthAdjust="spacingAndGlyphs" transform="rotate(-90 266 274.5)">110</text>
<text x="266" y="318" font-size="6.1" text-anchor="middle" fill="#4a4a4a" dominant-baseline="middle" textLength="7.12" lengthAdjust="spacingAndGlyphs" transform="rotate(-90 266 318)">2.2</text>
<line x1="281.0" y1="411.4" x2="455.4" y2="411.4" stroke="#707070" stroke-width="0.7"/>
<line x1="281.0" y1="409.4" x2="281.0" y2="450" stroke="#707070" stroke-width="0.6"/>
<line x1="455.4" y1="409.4" x2="455.4" y2="450" stroke="#707070" stroke-width="0.6"/>
<text x="368.2" y="409.59999999999997" font-size="6.1" text-anchor="middle" fill="#4a4a4a"  textLength="8.55" lengthAdjust="spacingAndGlyphs">262</text>
<line x1="286.0" y1="419.3" x2="450.4" y2="419.3" stroke="#707070" stroke-width="0.7"/>
<line x1="286.0" y1="417.3" x2="286.0" y2="450" stroke="#707070" stroke-width="0.6"/>
<line x1="450.4" y1="417.3" x2="450.4" y2="450" stroke="#707070" stroke-width="0.6"/>
<text x="368.2" y="417.5" font-size="6.1" text-anchor="middle" fill="#4a4a4a"  textLength="8.55" lengthAdjust="spacingAndGlyphs">247</text>
<line x1="292.0" y1="426.2" x2="444.7" y2="426.2" stroke="#707070" stroke-width="0.7"/>
<line x1="292.0" y1="424.2" x2="292.0" y2="450" stroke="#707070" stroke-width="0.6"/>
<line x1="444.7" y1="424.2" x2="444.7" y2="450" stroke="#707070" stroke-width="0.6"/>
<text x="368.35" y="424.4" font-size="6.1" text-anchor="middle" fill="#4a4a4a"  textLength="8.55" lengthAdjust="spacingAndGlyphs">230</text>
<rect x="292.0" y="434.5" width="152.7" height="172.5" fill="#eedfcb" stroke="#4a4440" stroke-width="0.8" />
<polygon points="281.0,454 286,448.4 292.0,448.4 292.0,598 286,598 281.0,593" fill="#eedfcb" stroke="#4a4440" stroke-width="0.6"/>
<polygon points="455.4,454 450.4,448.4 444.7,448.4 444.7,598 450.4,598 455.4,593" fill="#eedfcb" stroke="#4a4440" stroke-width="0.6"/>
<rect x="292.0" y="436.8" width="152.7" height="1.4" fill="#7a6e62" stroke="none" stroke-width="0.6" />
<rect x="292.0" y="440.4" width="152.7" height="1.4" fill="#4a4440" stroke="none" stroke-width="0.6" />
<rect x="292.0" y="446.0" width="152.7" height="3.2" fill="#1e1a18" stroke="none" stroke-width="0.6" />
<rect x="292.0" y="449.2" width="152.7" height="0.6" fill="#8a7e70" stroke="none" stroke-width="0.6" />
<rect x="292.0" y="452.12" width="152.7" height="3.2" fill="#1e1a18" stroke="none" stroke-width="0.6" />
<rect x="292.0" y="455.32" width="152.7" height="0.6" fill="#8a7e70" stroke="none" stroke-width="0.6" />
<rect x="292.0" y="458.24" width="152.7" height="3.2" fill="#1e1a18" stroke="none" stroke-width="0.6" />
<rect x="292.0" y="461.44" width="152.7" height="0.6" fill="#8a7e70" stroke="none" stroke-width="0.6" />
<rect x="292.0" y="464.36" width="152.7" height="3.2" fill="#1e1a18" stroke="none" stroke-width="0.6" />
<rect x="292.0" y="467.56" width="152.7" height="0.6" fill="#8a7e70" stroke="none" stroke-width="0.6" />
<rect x="292.0" y="470.48" width="152.7" height="3.2" fill="#1e1a18" stroke="none" stroke-width="0.6" />
<rect x="292.0" y="473.68" width="152.7" height="0.6" fill="#8a7e70" stroke="none" stroke-width="0.6" />
<rect x="292.0" y="476.6" width="152.7" height="3.2" fill="#1e1a18" stroke="none" stroke-width="0.6" />
<rect x="292.0" y="479.8" width="152.7" height="0.6" fill="#8a7e70" stroke="none" stroke-width="0.6" />
<rect x="292.0" y="482.72" width="152.7" height="3.2" fill="#1e1a18" stroke="none" stroke-width="0.6" />
<rect x="292.0" y="485.92" width="152.7" height="0.6" fill="#8a7e70" stroke="none" stroke-width="0.6" />
<rect x="292.0" y="488.84000000000003" width="152.7" height="3.2" fill="#1e1a18" stroke="none" stroke-width="0.6" />
<rect x="292.0" y="492.04" width="152.7" height="0.6" fill="#8a7e70" stroke="none" stroke-width="0.6" />
<rect x="292.0" y="494.96000000000004" width="152.7" height="3.2" fill="#1e1a18" stroke="none" stroke-width="0.6" />
<rect x="292.0" y="498.16" width="152.7" height="0.6" fill="#8a7e70" stroke="none" stroke-width="0.6" />
<rect x="292.0" y="501.08000000000004" width="152.7" height="3.2" fill="#1e1a18" stroke="none" stroke-width="0.6" />
<rect x="292.0" y="504.28000000000003" width="152.7" height="0.6" fill="#8a7e70" stroke="none" stroke-width="0.6" />
<rect x="292.0" y="519.44" width="152.7" height="3.2" fill="#1e1a18" stroke="none" stroke-width="0.6" />
<rect x="292.0" y="522.6400000000001" width="152.7" height="0.6" fill="#8a7e70" stroke="none" stroke-width="0.6" />
<rect x="292.0" y="525.5600000000001" width="152.7" height="3.2" fill="#1e1a18" stroke="none" stroke-width="0.6" />
<rect x="292.0" y="528.7600000000001" width="152.7" height="0.6" fill="#8a7e70" stroke="none" stroke-width="0.6" />
<rect x="292.0" y="531.6800000000001" width="152.7" height="3.2" fill="#1e1a18" stroke="none" stroke-width="0.6" />
<rect x="292.0" y="534.8800000000001" width="152.7" height="0.6" fill="#8a7e70" stroke="none" stroke-width="0.6" />
<rect x="292.0" y="537.8000000000001" width="152.7" height="3.2" fill="#1e1a18" stroke="none" stroke-width="0.6" />
<rect x="292.0" y="541.0000000000001" width="152.7" height="0.6" fill="#8a7e70" stroke="none" stroke-width="0.6" />
<rect x="292.0" y="543.9200000000001" width="152.7" height="3.2" fill="#1e1a18" stroke="none" stroke-width="0.6" />
<rect x="292.0" y="547.1200000000001" width="152.7" height="0.6" fill="#8a7e70" stroke="none" stroke-width="0.6" />
<rect x="292.0" y="550.0400000000001" width="152.7" height="3.2" fill="#1e1a18" stroke="none" stroke-width="0.6" />
<rect x="292.0" y="553.2400000000001" width="152.7" height="0.6" fill="#8a7e70" stroke="none" stroke-width="0.6" />
<rect x="292.0" y="556.1600000000001" width="152.7" height="3.2" fill="#1e1a18" stroke="none" stroke-width="0.6" />
<rect x="292.0" y="559.3600000000001" width="152.7" height="0.6" fill="#8a7e70" stroke="none" stroke-width="0.6" />
<rect x="292.0" y="562.2800000000001" width="152.7" height="3.2" fill="#1e1a18" stroke="none" stroke-width="0.6" />
<rect x="292.0" y="565.4800000000001" width="152.7" height="0.6" fill="#8a7e70" stroke="none" stroke-width="0.6" />
<rect x="292.0" y="568.4000000000001" width="152.7" height="3.2" fill="#1e1a18" stroke="none" stroke-width="0.6" />
<rect x="292.0" y="571.6000000000001" width="152.7" height="0.6" fill="#8a7e70" stroke="none" stroke-width="0.6" />
<rect x="292.0" y="574.5200000000001" width="152.7" height="3.2" fill="#1e1a18" stroke="none" stroke-width="0.6" />
<rect x="292.0" y="577.7200000000001" width="152.7" height="0.6" fill="#8a7e70" stroke="none" stroke-width="0.6" />
<line x1="292.0" y1="508.3" x2="444.7" y2="508.3" stroke="#6a6058" stroke-width="0.8"/>
<rect x="292.5" y="509.5" width="2.5" height="5" fill="none" stroke="#777" stroke-width="0.4" />
<line x1="292.0" y1="582.5" x2="444.7" y2="582.5" stroke="#555" stroke-width="0.7"/>
<line x1="292.0" y1="596" x2="444.7" y2="596" stroke="#666" stroke-width="0.6"/>
<path d="M286.3,461.1 C288.5,461.1 287.8,465.1 289.3,467.6 C287.8,470.1 288.5,474.1 286.3,474.1 C284.1,474.1 284.8,470.1 283.3,467.6 C284.8,465.1 284.1,461.1 286.3,461.1 Z" fill="#fff" stroke="#4a4440" stroke-width="0.5"/>
<path d="M286.3,514.5 C288.5,514.5 287.8,518.5 289.3,521.0 C287.8,523.5 288.5,527.5 286.3,527.5 C284.1,527.5 284.8,523.5 283.3,521.0 C284.8,518.5 284.1,514.5 286.3,514.5 Z" fill="#fff" stroke="#4a4440" stroke-width="0.5"/>
<path d="M286.3,567.5 C288.5,567.5 287.8,571.5 289.3,574.0 C287.8,576.5 288.5,580.5 286.3,580.5 C284.1,580.5 284.8,576.5 283.3,574.0 C284.8,571.5 284.1,567.5 286.3,567.5 Z" fill="#fff" stroke="#4a4440" stroke-width="0.5"/>
<circle cx="286.3" cy="494.2" r="2.4" fill="#b4aea6" stroke="#3a3634" stroke-width="1.0"/>
<line x1="284.8" y1="492.7" x2="287.8" y2="495.7" stroke="#555" stroke-width="0.5"/>
<line x1="284.8" y1="495.7" x2="287.8" y2="492.7" stroke="#555" stroke-width="0.5"/>
<circle cx="286.3" cy="547.8" r="2.4" fill="#b4aea6" stroke="#3a3634" stroke-width="1.0"/>
<line x1="284.8" y1="546.3" x2="287.8" y2="549.3" stroke="#555" stroke-width="0.5"/>
<line x1="284.8" y1="549.3" x2="287.8" y2="546.3" stroke="#555" stroke-width="0.5"/>
<path d="M450.1,461.1 C452.3,461.1 451.6,465.1 453.1,467.6 C451.6,470.1 452.3,474.1 450.1,474.1 C447.90000000000003,474.1 448.6,470.1 447.1,467.6 C448.6,465.1 447.90000000000003,461.1 450.1,461.1 Z" fill="#fff" stroke="#4a4440" stroke-width="0.5"/>
<path d="M450.1,514.5 C452.3,514.5 451.6,518.5 453.1,521.0 C451.6,523.5 452.3,527.5 450.1,527.5 C447.90000000000003,527.5 448.6,523.5 447.1,521.0 C448.6,518.5 447.90000000000003,514.5 450.1,514.5 Z" fill="#fff" stroke="#4a4440" stroke-width="0.5"/>
<path d="M450.1,567.5 C452.3,567.5 451.6,571.5 453.1,574.0 C451.6,576.5 452.3,580.5 450.1,580.5 C447.90000000000003,580.5 448.6,576.5 447.1,574.0 C448.6,571.5 447.90000000000003,567.5 450.1,567.5 Z" fill="#fff" stroke="#4a4440" stroke-width="0.5"/>
<circle cx="450.1" cy="494.2" r="2.4" fill="#b4aea6" stroke="#3a3634" stroke-width="1.0"/>
<line x1="448.6" y1="492.7" x2="451.6" y2="495.7" stroke="#555" stroke-width="0.5"/>
<line x1="448.6" y1="495.7" x2="451.6" y2="492.7" stroke="#555" stroke-width="0.5"/>
<circle cx="450.1" cy="547.8" r="2.4" fill="#b4aea6" stroke="#3a3634" stroke-width="1.0"/>
<line x1="448.6" y1="546.3" x2="451.6" y2="549.3" stroke="#555" stroke-width="0.5"/>
<line x1="448.6" y1="549.3" x2="451.6" y2="546.3" stroke="#555" stroke-width="0.5"/>
<line x1="275.3" y1="434.5" x2="275.3" y2="579.3" stroke="#707070" stroke-width="0.6"/>
<line x1="275.3" y1="434.5" x2="284" y2="434.5" stroke="#777" stroke-width="0.5"/>
<line x1="275.3" y1="462.2" x2="284" y2="462.2" stroke="#777" stroke-width="0.5"/>
<line x1="275.3" y1="473" x2="284" y2="473" stroke="#777" stroke-width="0.5"/>
<line x1="275.3" y1="494.2" x2="284" y2="494.2" stroke="#777" stroke-width="0.5"/>
<line x1="275.3" y1="516.2" x2="284" y2="516.2" stroke="#777" stroke-width="0.5"/>
<line x1="275.3" y1="526.1" x2="284" y2="526.1" stroke="#777" stroke-width="0.5"/>
<line x1="275.3" y1="547.8" x2="284" y2="547.8" stroke="#777" stroke-width="0.5"/>
<line x1="275.3" y1="568.4" x2="284" y2="568.4" stroke="#777" stroke-width="0.5"/>
<line x1="275.3" y1="579.3" x2="284" y2="579.3" stroke="#777" stroke-width="0.5"/>
<text x="272.5" y="448.35" font-size="6.1" text-anchor="middle" fill="#4a4a4a" dominant-baseline="middle" textLength="9.97" lengthAdjust="spacingAndGlyphs" transform="rotate(-90 272.5 448.35)">42.5</text>
<text x="272.5" y="467.6" font-size="6.1" text-anchor="middle" fill="#4a4a4a" dominant-baseline="middle" textLength="5.70" lengthAdjust="spacingAndGlyphs" transform="rotate(-90 272.5 467.6)">15</text>
<text x="272.5" y="483.6" font-size="6.1" text-anchor="middle" fill="#4a4a4a" dominant-baseline="middle" textLength="9.97" lengthAdjust="spacingAndGlyphs" transform="rotate(-90 272.5 483.6)">32.5</text>
<text x="272.5" y="505.20000000000005" font-size="6.1" text-anchor="middle" fill="#4a4a4a" dominant-baseline="middle" textLength="9.97" lengthAdjust="spacingAndGlyphs" transform="rotate(-90 272.5 505.20000000000005)">32.5</text>
<text x="272.5" y="521.1500000000001" font-size="6.1" text-anchor="middle" fill="#4a4a4a" dominant-baseline="middle" textLength="5.70" lengthAdjust="spacingAndGlyphs" transform="rotate(-90 272.5 521.1500000000001)">15</text>
<text x="272.5" y="536.95" font-size="6.1" text-anchor="middle" fill="#4a4a4a" dominant-baseline="middle" textLength="9.97" lengthAdjust="spacingAndGlyphs" transform="rotate(-90 272.5 536.95)">32.5</text>
<text x="272.5" y="558.0999999999999" font-size="6.1" text-anchor="middle" fill="#4a4a4a" dominant-baseline="middle" textLength="9.97" lengthAdjust="spacingAndGlyphs" transform="rotate(-90 272.5 558.0999999999999)">32.5</text>
<text x="272.5" y="573.8499999999999" font-size="6.1" text-anchor="middle" fill="#4a4a4a" dominant-baseline="middle" textLength="5.70" lengthAdjust="spacingAndGlyphs" transform="rotate(-90 272.5 573.8499999999999)">15</text>
<line x1="263.8" y1="434.5" x2="263.8" y2="607" stroke="#707070" stroke-width="0.6"/>
<line x1="262" y1="434.5" x2="292" y2="434.5" stroke="#707070" stroke-width="0.5"/>
<line x1="262" y1="607" x2="292" y2="607" stroke="#707070" stroke-width="0.5"/>
<text x="260.5" y="520" font-size="6.34" text-anchor="middle" fill="#4a4a4a" dominant-baseline="middle" textLength="8.88" lengthAdjust="spacingAndGlyphs" transform="rotate(-90 260.5 520)">260</text>
<text x="458" y="487.5" font-size="5.61" text-anchor="start" fill="#4a4a4a"  textLength="10.73" lengthAdjust="spacingAndGlyphs">4-M4</text>
<line x1="456" y1="488.5" x2="470" y2="488.5" stroke="#777" stroke-width="0.5"/>
<line x1="456" y1="488.5" x2="449" y2="494.5" stroke="#777" stroke-width="0.5"/>
<text x="458" y="513" font-size="5.61" text-anchor="start" fill="#4a4a4a"  textLength="12.31" lengthAdjust="spacingAndGlyphs">6-ø10</text>
<line x1="456" y1="514" x2="470" y2="514" stroke="#777" stroke-width="0.5"/>
<line x1="456" y1="514" x2="449" y2="520" stroke="#777" stroke-width="0.5"/>
<text x="458" y="557" font-size="5.61" text-anchor="start" fill="#4a4a4a"  textLength="12.31" lengthAdjust="spacingAndGlyphs">12-ø5</text>
<line x1="456" y1="558" x2="470" y2="558" stroke="#777" stroke-width="0.5"/>
<line x1="456" y1="558" x2="449" y2="564" stroke="#777" stroke-width="0.5"/>
<rect x="293.5" y="607" width="17.8" height="1.4" fill="#5a544e" stroke="none" stroke-width="0.6" />
<rect x="311.3" y="607" width="19.7" height="3.0" fill="#8a8078" stroke="#4a4440" stroke-width="0.5" />
<rect x="312.5" y="607.6" width="1.6" height="1.8" fill="#3a3430" stroke="none" stroke-width="0.6" />
<rect x="315.6" y="607.6" width="1.6" height="1.8" fill="#3a3430" stroke="none" stroke-width="0.6" />
<rect x="318.7" y="607.6" width="1.6" height="1.8" fill="#3a3430" stroke="none" stroke-width="0.6" />
<rect x="321.8" y="607.6" width="1.6" height="1.8" fill="#3a3430" stroke="none" stroke-width="0.6" />
<rect x="324.9" y="607.6" width="1.6" height="1.8" fill="#3a3430" stroke="none" stroke-width="0.6" />
<rect x="328.0" y="607.6" width="1.6" height="1.8" fill="#3a3430" stroke="none" stroke-width="0.6" />
<rect x="400" y="607" width="28" height="1.6" fill="#5a544e" stroke="none" stroke-width="0.6" />
<rect x="352" y="607" width="12" height="9" fill="#eedfcb" stroke="#4a4440" stroke-width="0.6" />
<line x1="275.3" y1="598" x2="275.3" y2="619" stroke="#707070" stroke-width="0.5"/>
<line x1="262" y1="616.1" x2="352" y2="616.1" stroke="#707070" stroke-width="0.5"/>
<text x="270.3" y="615.6" font-size="6.1" text-anchor="middle" fill="#4a4a4a"  textLength="9.97" lengthAdjust="spacingAndGlyphs">13.2</text>
<line x1="501.7" y1="419.2" x2="578.8" y2="419.2" stroke="#707070" stroke-width="0.6"/>
<line x1="501.7" y1="417" x2="501.7" y2="435.0" stroke="#707070" stroke-width="0.6"/>
<line x1="578.8" y1="417" x2="578.8" y2="435.0" stroke="#707070" stroke-width="0.6"/>
<text x="540.25" y="416.5" font-size="6.34" text-anchor="middle" fill="#4a4a4a"  textLength="8.88" lengthAdjust="spacingAndGlyphs">136</text>
<line x1="489" y1="435.0" x2="489" y2="607.0" stroke="#707070" stroke-width="0.6"/>
<line x1="487" y1="435.0" x2="501.7" y2="435.0" stroke="#707070" stroke-width="0.5"/>
<line x1="487" y1="607.0" x2="501.7" y2="607.0" stroke="#707070" stroke-width="0.5"/>
<text x="485.5" y="520" font-size="6.34" text-anchor="middle" fill="#4a4a4a" dominant-baseline="middle" textLength="8.88" lengthAdjust="spacingAndGlyphs" transform="rotate(-90 485.5 520)">260</text>
<rect x="522.0" y="435.0" width="56.799999999999955" height="172.0" fill="#eedfcb" stroke="#4a4440" stroke-width="0.7" />
<rect x="578.8" y="448" width="4.8" height="145" fill="#c8bcaa" stroke="#4a4440" stroke-width="0.7" />
<line x1="581.1999999999999" y1="450" x2="581.1999999999999" y2="591" stroke="#5a5450" stroke-width="0.6"/>
<polygon points="501.7,440 504,435.0 522.0,435.0 522.0,438.5 501.7,438.5" fill="#eedfcb" stroke="#4a4440" stroke-width="0.5"/>
<rect x="506.7" y="435.5" width="2" height="3.5" fill="#fff" stroke="#4a4440" stroke-width="0.4" />
<rect x="510.5" y="435.5" width="2" height="3.5" fill="#fff" stroke="#4a4440" stroke-width="0.4" />
<rect x="514.3" y="435.5" width="2" height="3.5" fill="#fff" stroke="#4a4440" stroke-width="0.4" />
<rect x="518.1" y="435.5" width="2" height="3.5" fill="#fff" stroke="#4a4440" stroke-width="0.4" />
<rect x="502.7" y="446.3" width="20.30000000000001" height="2.6" fill="#b0a496" stroke="#5e544c" stroke-width="0.7" rx="1.2"/>
<rect x="502.7" y="452.40000000000003" width="20.30000000000001" height="2.6" fill="#b0a496" stroke="#5e544c" stroke-width="0.7" rx="1.2"/>
<rect x="502.7" y="458.50000000000006" width="20.30000000000001" height="2.6" fill="#b0a496" stroke="#5e544c" stroke-width="0.7" rx="1.2"/>
<rect x="502.7" y="464.6000000000001" width="20.30000000000001" height="2.6" fill="#b0a496" stroke="#5e544c" stroke-width="0.7" rx="1.2"/>
<rect x="502.7" y="470.7000000000001" width="20.30000000000001" height="2.6" fill="#b0a496" stroke="#5e544c" stroke-width="0.7" rx="1.2"/>
<rect x="502.7" y="476.8000000000001" width="20.30000000000001" height="2.6" fill="#b0a496" stroke="#5e544c" stroke-width="0.7" rx="1.2"/>
<rect x="502.7" y="482.90000000000015" width="20.30000000000001" height="2.6" fill="#b0a496" stroke="#5e544c" stroke-width="0.7" rx="1.2"/>
<rect x="502.7" y="489.00000000000017" width="20.30000000000001" height="2.6" fill="#b0a496" stroke="#5e544c" stroke-width="0.7" rx="1.2"/>
<rect x="502.7" y="495.1000000000002" width="20.30000000000001" height="2.6" fill="#b0a496" stroke="#5e544c" stroke-width="0.7" rx="1.2"/>
<rect x="502.7" y="501.2000000000002" width="20.30000000000001" height="2.6" fill="#b0a496" stroke="#5e544c" stroke-width="0.7" rx="1.2"/>
<rect x="502.7" y="507.30000000000024" width="20.30000000000001" height="2.6" fill="#b0a496" stroke="#5e544c" stroke-width="0.7" rx="1.2"/>
<rect x="502.7" y="513.4000000000002" width="20.30000000000001" height="2.6" fill="#b0a496" stroke="#5e544c" stroke-width="0.7" rx="1.2"/>
<rect x="502.7" y="519.5000000000002" width="20.30000000000001" height="2.6" fill="#b0a496" stroke="#5e544c" stroke-width="0.7" rx="1.2"/>
<rect x="502.7" y="525.6000000000003" width="20.30000000000001" height="2.6" fill="#b0a496" stroke="#5e544c" stroke-width="0.7" rx="1.2"/>
<rect x="502.7" y="531.7000000000003" width="20.30000000000001" height="2.6" fill="#b0a496" stroke="#5e544c" stroke-width="0.7" rx="1.2"/>
<rect x="502.7" y="537.8000000000003" width="20.30000000000001" height="2.6" fill="#b0a496" stroke="#5e544c" stroke-width="0.7" rx="1.2"/>
<rect x="502.7" y="543.9000000000003" width="20.30000000000001" height="2.6" fill="#b0a496" stroke="#5e544c" stroke-width="0.7" rx="1.2"/>
<rect x="502.7" y="550.0000000000003" width="20.30000000000001" height="2.6" fill="#b0a496" stroke="#5e544c" stroke-width="0.7" rx="1.2"/>
<rect x="502.7" y="556.1000000000004" width="20.30000000000001" height="2.6" fill="#b0a496" stroke="#5e544c" stroke-width="0.7" rx="1.2"/>
<rect x="502.7" y="562.2000000000004" width="20.30000000000001" height="2.6" fill="#b0a496" stroke="#5e544c" stroke-width="0.7" rx="1.2"/>
<rect x="502.7" y="568.3000000000004" width="20.30000000000001" height="2.6" fill="#b0a496" stroke="#5e544c" stroke-width="0.7" rx="1.2"/>
<rect x="502.7" y="574.4000000000004" width="20.30000000000001" height="2.6" fill="#b0a496" stroke="#5e544c" stroke-width="0.7" rx="1.2"/>
<rect x="502.2" y="508.7" width="7.5" height="6.9" fill="#e0d4c0" stroke="#4a4440" stroke-width="0.5" rx="1.5"/>
<circle cx="524" cy="448.8" r="1.6" fill="#6a6460" stroke="#2a2a2a" stroke-width="0.8"/>
<circle cx="524" cy="512" r="1.6" fill="#6a6460" stroke="#2a2a2a" stroke-width="0.8"/>
<circle cx="524" cy="575.5" r="1.6" fill="#6a6460" stroke="#2a2a2a" stroke-width="0.8"/>
<circle cx="532" cy="468" r="1.6" fill="#6a6460" stroke="#2a2a2a" stroke-width="0.8"/>
<circle cx="569" cy="464.5" r="1.6" fill="#6a6460" stroke="#2a2a2a" stroke-width="0.8"/>
<circle cx="532" cy="574" r="1.6" fill="#6a6460" stroke="#2a2a2a" stroke-width="0.8"/>
<circle cx="569" cy="577.5" r="1.6" fill="#6a6460" stroke="#2a2a2a" stroke-width="0.8"/>
<circle cx="532" cy="521" r="1.6" fill="#6a6460" stroke="#2a2a2a" stroke-width="0.8"/>
<circle cx="569" cy="521" r="1.6" fill="#6a6460" stroke="#2a2a2a" stroke-width="0.8"/>
<rect x="501.7" y="582" width="35.599999999999966" height="25.0" fill="#eedfcb" stroke="#4a4440" stroke-width="0.6" />
<circle cx="506.5" cy="586" r="1.8" fill="#aaa" stroke="#444" stroke-width="0.7"/>
<circle cx="533.5" cy="587.5" r="1.8" fill="#aaa" stroke="#444" stroke-width="0.7"/>
<circle cx="506" cy="604" r="1.8" fill="#aaa" stroke="#444" stroke-width="0.7"/>
<rect x="537.3" y="607.0" width="41.5" height="8.7" fill="#eedfcb" stroke="#4a4440" stroke-width="0.6" />
<circle cx="555.5" cy="611" r="1.6" fill="#aaa" stroke="#444" stroke-width="0.6"/>
<circle cx="569" cy="611" r="1.6" fill="#aaa" stroke="#444" stroke-width="0.6"/>
<rect x="546" y="607.5" width="8" height="3" fill="none" stroke="#555" stroke-width="0.4" />
<rect x="560" y="607.5" width="8" height="3" fill="none" stroke="#555" stroke-width="0.4" />
<rect x="292.2" y="641.8" width="152.6" height="8" fill="#eedfcb" stroke="#4a4440" stroke-width="0.8" />
<line x1="292.2" y1="642.0" x2="444.8" y2="642.0" stroke="#5a5450" stroke-width="1.0"/>
<g transform="translate(292.2 645.0) scale(1 1.0)">
<rect x="0" y="-2.5" width="152.6" height="74.4" fill="#eedfcb" stroke="none" stroke-width="0.6" />
<line x1="0" y1="-2.5" x2="0" y2="71.9" stroke="#4a4440" stroke-width="0.8"/>
<line x1="0" y1="71.60000000000001" x2="152.6" y2="71.60000000000001" stroke="#3a3634" stroke-width="1.0"/>
<line x1="2.6" y1="0" x2="2.6" y2="71.9" stroke="#6a625a" stroke-width="0.6"/>
<line x1="152.0" y1="0" x2="152.0" y2="71.9" stroke="#3a3634" stroke-width="0.9"/>
<rect x="-1.2" y="34" width="1.6" height="5" fill="#222" stroke="none" stroke-width="0.6" />
<polygon points="2.6,0.5 19.7,0.5 19.7,29 2.6,29" fill="none" stroke="#6a625a" stroke-width="0.6"/>
<circle cx="10.6" cy="20.5" r="4.5" fill="#6a625c" stroke="#2a2a2a" stroke-width="0.8"/>
<circle cx="10.6" cy="20.5" r="1.4" fill="#3a3a3a" stroke="none" stroke-width="0.6"/>
<circle cx="5" cy="3.3" r="1.8" fill="#8a847c" stroke="#3a3634" stroke-width="0.6"/>
<circle cx="21.5" cy="3.3" r="1.8" fill="#8a847c" stroke="#3a3634" stroke-width="0.6"/>
<circle cx="4.5" cy="27.8" r="1.8" fill="#8a847c" stroke="#3a3634" stroke-width="0.6"/>
<circle cx="4.5" cy="41.8" r="1.8" fill="#8a847c" stroke="#3a3634" stroke-width="0.6"/>
<rect x="24.2" y="7.4" width="11.6" height="6" fill="#d8ccb8" stroke="#1e1e1e" stroke-width="1.0" rx="1.8"/>
<rect x="26.5" y="9.4" width="7" height="2" fill="#777" stroke="none" stroke-width="0.6" />
<circle cx="21" cy="10.4" r="1.7" fill="#1e1e1e" stroke="none" stroke-width="0.6"/>
<circle cx="38.5" cy="10.4" r="1.7" fill="#1e1e1e" stroke="none" stroke-width="0.6"/>
<rect x="24.2" y="18.0" width="11.6" height="6" fill="#d8ccb8" stroke="#1e1e1e" stroke-width="1.0" rx="1.8"/>
<rect x="26.5" y="20.0" width="7" height="2" fill="#777" stroke="none" stroke-width="0.6" />
<circle cx="21" cy="21.0" r="1.7" fill="#1e1e1e" stroke="none" stroke-width="0.6"/>
<circle cx="38.5" cy="21.0" r="1.7" fill="#1e1e1e" stroke="none" stroke-width="0.6"/>
<rect x="44.6" y="4.8" width="10" height="19.7" fill="#1e1c1a" stroke="none" stroke-width="0.6" />
<rect x="46.1" y="6.2" width="7" height="5.5" fill="#e8dccc" stroke="#1e1c1a" stroke-width="0.5" rx="1.5"/>
<rect x="46.800000000000004" y="8.3" width="5.6" height="2.2" fill="#1e1c1a" stroke="none" stroke-width="0.6" />
<rect x="46.1" y="15" width="7" height="0.8" fill="#8a8078" stroke="none" stroke-width="0.6" />
<rect x="46.1" y="20.5" width="7" height="0.8" fill="#8a8078" stroke="none" stroke-width="0.6" />
<rect x="59.7" y="4.8" width="10" height="19.7" fill="#1e1c1a" stroke="none" stroke-width="0.6" />
<rect x="61.2" y="6.2" width="7" height="5.5" fill="#e8dccc" stroke="#1e1c1a" stroke-width="0.5" rx="1.5"/>
<rect x="61.900000000000006" y="8.3" width="5.6" height="2.2" fill="#1e1c1a" stroke="none" stroke-width="0.6" />
<rect x="61.2" y="15" width="7" height="0.8" fill="#8a8078" stroke="none" stroke-width="0.6" />
<rect x="61.2" y="20.5" width="7" height="0.8" fill="#8a8078" stroke="none" stroke-width="0.6" />
<rect x="75.3" y="4.8" width="10" height="19.7" fill="#1e1c1a" stroke="none" stroke-width="0.6" />
<rect x="76.8" y="6.2" width="7" height="5.5" fill="#e8dccc" stroke="#1e1c1a" stroke-width="0.5" rx="1.5"/>
<rect x="77.5" y="8.3" width="5.6" height="2.2" fill="#1e1c1a" stroke="none" stroke-width="0.6" />
<rect x="76.8" y="15" width="7" height="0.8" fill="#8a8078" stroke="none" stroke-width="0.6" />
<rect x="76.8" y="20.5" width="7" height="0.8" fill="#8a8078" stroke="none" stroke-width="0.6" />
<rect x="96.2" y="8" width="13.2" height="6" fill="#a8a098" stroke="#1e1e1e" stroke-width="1.0" rx="1.8"/>
<circle cx="93.6" cy="11" r="1.8" fill="#1e1e1e" stroke="none" stroke-width="0.6"/>
<circle cx="112.1" cy="11" r="1.8" fill="#1e1e1e" stroke="none" stroke-width="0.6"/>
<rect x="92.9" y="18.5" width="18.5" height="6.6" fill="#2a2826" stroke="#1e1e1e" stroke-width="0.6" />
<rect x="95" y="20" width="9" height="3.6" fill="#8a8078" stroke="none" stroke-width="0.6" />
<rect x="105.5" y="20" width="4" height="3.6" fill="#d8ccb8" stroke="none" stroke-width="0.6" />
<circle cx="90.9" cy="21.8" r="2.0" fill="#1e1e1e" stroke="none" stroke-width="0.6"/>
<circle cx="113.3" cy="21.8" r="2.0" fill="#1e1e1e" stroke="none" stroke-width="0.6"/>
<rect x="118.6" y="13.9" width="4.6" height="10.6" fill="#e8dccc" stroke="#3a3634" stroke-width="0.8" rx="1.6"/>
<circle cx="120.6" cy="8" r="2.8" fill="#d8ccb8" stroke="#3a3634" stroke-width="0.8"/>
<circle cx="120.6" cy="8" r="1.2" fill="#555" stroke="none" stroke-width="0.6"/>
<circle cx="128.5" cy="13.9" r="1.9" fill="#222" stroke="none" stroke-width="0.6"/>
<circle cx="128.5" cy="21.5" r="1.9" fill="#222" stroke="none" stroke-width="0.6"/>
<circle cx="135.3" cy="13.9" r="0.9" fill="#aaa" stroke="#555" stroke-width="0.4"/>
<circle cx="135.3" cy="21.5" r="2.9" fill="#e8dccc" stroke="#3a3634" stroke-width="0.8"/>
<circle cx="135.3" cy="21.5" r="1.2" fill="#888" stroke="none" stroke-width="0.6"/>
<rect x="142.3" y="8" width="4.6" height="17.1" fill="#e8dccc" stroke="#3a3634" stroke-width="0.7" />
<rect x="143.2" y="9.3" width="2.8" height="1.8" fill="#555" stroke="none" stroke-width="0.6" />
<rect x="143.2" y="12.4" width="2.8" height="1.8" fill="#555" stroke="none" stroke-width="0.6" />
<rect x="143.2" y="15.5" width="2.8" height="1.8" fill="#555" stroke="none" stroke-width="0.6" />
<rect x="143.2" y="18.6" width="2.8" height="1.8" fill="#555" stroke="none" stroke-width="0.6" />
<rect x="143.2" y="21.700000000000003" width="2.8" height="1.8" fill="#555" stroke="none" stroke-width="0.6" />
<rect x="7" y="29" width="45.9" height="23.7" fill="none" stroke="#5a524a" stroke-width="0.8" rx="1.5"/>
<circle cx="29.7" cy="52.7" r="2.8" fill="#8a847c" stroke="#2a2a2a" stroke-width="0.8"/>
<line x1="2.6" y1="33.3" x2="7" y2="33.3" stroke="#5a524a" stroke-width="0.6"/>
<rect x="4.5" y="57.1" width="1.6" height="1.6" fill="#4a4440" stroke="none" stroke-width="0.6" />
<rect x="7.8" y="57.1" width="1.6" height="1.6" fill="#4a4440" stroke="none" stroke-width="0.6" />
<rect x="11.1" y="57.1" width="1.6" height="1.6" fill="#4a4440" stroke="none" stroke-width="0.6" />
<rect x="14.399999999999999" y="57.1" width="1.6" height="1.6" fill="#4a4440" stroke="none" stroke-width="0.6" />
<rect x="17.7" y="57.1" width="1.6" height="1.6" fill="#4a4440" stroke="none" stroke-width="0.6" />
<rect x="21.0" y="57.1" width="1.6" height="1.6" fill="#4a4440" stroke="none" stroke-width="0.6" />
<rect x="24.299999999999997" y="57.1" width="1.6" height="1.6" fill="#4a4440" stroke="none" stroke-width="0.6" />
<rect x="27.599999999999998" y="57.1" width="1.6" height="1.6" fill="#4a4440" stroke="none" stroke-width="0.6" />
<rect x="30.9" y="57.1" width="1.6" height="1.6" fill="#4a4440" stroke="none" stroke-width="0.6" />
<rect x="34.2" y="57.1" width="1.6" height="1.6" fill="#4a4440" stroke="none" stroke-width="0.6" />
<rect x="37.5" y="57.1" width="1.6" height="1.6" fill="#4a4440" stroke="none" stroke-width="0.6" />
<rect x="40.8" y="57.1" width="1.6" height="1.6" fill="#4a4440" stroke="none" stroke-width="0.6" />
<rect x="44.099999999999994" y="57.1" width="1.6" height="1.6" fill="#4a4440" stroke="none" stroke-width="0.6" />
<rect x="47.4" y="57.1" width="1.6" height="1.6" fill="#4a4440" stroke="none" stroke-width="0.6" />
<rect x="50.699999999999996" y="57.1" width="1.6" height="1.6" fill="#4a4440" stroke="none" stroke-width="0.6" />
<rect x="54.0" y="57.1" width="1.6" height="1.6" fill="#4a4440" stroke="none" stroke-width="0.6" />
<rect x="4" y="60.2" width="32.8" height="8.6" fill="none" stroke="#5a524a" stroke-width="0.8" rx="1"/>
<rect x="38.2" y="60.8" width="1.6" height="1.6" fill="#4a4440" stroke="none" stroke-width="0.6" />
<rect x="41.400000000000006" y="60.8" width="1.6" height="1.6" fill="#4a4440" stroke="none" stroke-width="0.6" />
<rect x="44.6" y="60.8" width="1.6" height="1.6" fill="#4a4440" stroke="none" stroke-width="0.6" />
<rect x="47.800000000000004" y="60.8" width="1.6" height="1.6" fill="#4a4440" stroke="none" stroke-width="0.6" />
<rect x="51.0" y="60.8" width="1.6" height="1.6" fill="#4a4440" stroke="none" stroke-width="0.6" />
<rect x="54.2" y="60.8" width="1.6" height="1.6" fill="#4a4440" stroke="none" stroke-width="0.6" />
<rect x="57.400000000000006" y="60.8" width="1.6" height="1.6" fill="#4a4440" stroke="none" stroke-width="0.6" />
<rect x="38.2" y="63.8" width="1.6" height="1.6" fill="#4a4440" stroke="none" stroke-width="0.6" />
<rect x="41.400000000000006" y="63.8" width="1.6" height="1.6" fill="#4a4440" stroke="none" stroke-width="0.6" />
<rect x="44.6" y="63.8" width="1.6" height="1.6" fill="#4a4440" stroke="none" stroke-width="0.6" />
<rect x="47.800000000000004" y="63.8" width="1.6" height="1.6" fill="#4a4440" stroke="none" stroke-width="0.6" />
<rect x="51.0" y="63.8" width="1.6" height="1.6" fill="#4a4440" stroke="none" stroke-width="0.6" />
<rect x="54.2" y="63.8" width="1.6" height="1.6" fill="#4a4440" stroke="none" stroke-width="0.6" />
<rect x="57.400000000000006" y="63.8" width="1.6" height="1.6" fill="#4a4440" stroke="none" stroke-width="0.6" />
<rect x="38.2" y="66.8" width="1.6" height="1.6" fill="#4a4440" stroke="none" stroke-width="0.6" />
<rect x="41.400000000000006" y="66.8" width="1.6" height="1.6" fill="#4a4440" stroke="none" stroke-width="0.6" />
<rect x="44.6" y="66.8" width="1.6" height="1.6" fill="#4a4440" stroke="none" stroke-width="0.6" />
<rect x="47.800000000000004" y="66.8" width="1.6" height="1.6" fill="#4a4440" stroke="none" stroke-width="0.6" />
<rect x="51.0" y="66.8" width="1.6" height="1.6" fill="#4a4440" stroke="none" stroke-width="0.6" />
<rect x="54.2" y="66.8" width="1.6" height="1.6" fill="#4a4440" stroke="none" stroke-width="0.6" />
<rect x="57.400000000000006" y="66.8" width="1.6" height="1.6" fill="#4a4440" stroke="none" stroke-width="0.6" />
<line x1="63.7" y1="30.4" x2="63.7" y2="71.9" stroke="#4a4440" stroke-width="0.7"/>
<line x1="65.0" y1="30.4" x2="65.0" y2="71.9" stroke="#6a625a" stroke-width="0.5"/>
<line x1="72.3" y1="30.4" x2="72.3" y2="71.9" stroke="#4a4440" stroke-width="0.7"/>
<line x1="52.9" y1="30.4" x2="152.6" y2="30.4" stroke="#4a4440" stroke-width="0.8"/>
<circle cx="56.1" cy="33.6" r="2.2" fill="#8a847c" stroke="#2a2a2a" stroke-width="0.7"/>
<circle cx="56.1" cy="28" r="1.8" fill="#8a847c" stroke="#2a2a2a" stroke-width="0.5"/>
<path d="M73,39 L76,37 L143,37 L143,47.5 L73,47.5" fill="none" stroke="#4a4440" stroke-width="0.8"/>
<path d="M73,52.8 L76,50.8 L143,50.8 L143,61.4 L73,61.4" fill="none" stroke="#4a4440" stroke-width="0.8"/>
<circle cx="86" cy="32.6" r="2" fill="#8a847c" stroke="#2a2a2a" stroke-width="0.6"/>
<circle cx="141" cy="32.4" r="2.1" fill="#8a847c" stroke="#2a2a2a" stroke-width="0.6"/>
<rect x="137" y="29.6" width="8" height="1.2" fill="#555" stroke="none" stroke-width="0.6" />
<rect x="146.3" y="37.3" width="1.6" height="10.5" fill="#3a3634" stroke="none" stroke-width="0.6" />
<rect x="146.3" y="50.8" width="1.6" height="11" fill="#3a3634" stroke="none" stroke-width="0.6" />
<rect x="-14" y="71.9" width="26" height="2.4" fill="#d8d0c4" stroke="#555" stroke-width="0.5" />
<rect x="141.6" y="71.9" width="20" height="2.4" fill="#d8d0c4" stroke="#555" stroke-width="0.5" />
</g>
<line x1="279" y1="641.5" x2="279" y2="729" stroke="#707070" stroke-width="0.6"/>
<line x1="276" y1="641.5" x2="292" y2="641.5" stroke="#707070" stroke-width="0.5"/>
<line x1="276" y1="718.5" x2="290" y2="718.5" stroke="#707070" stroke-width="0.5"/>
<line x1="276" y1="721.5" x2="290" y2="721.5" stroke="#707070" stroke-width="0.5"/>
<text x="272" y="679" font-size="6.34" text-anchor="middle" fill="#4a4a4a" dominant-baseline="middle" textLength="8.88" lengthAdjust="spacingAndGlyphs" transform="rotate(-90 272 679)">136</text>
<text x="275" y="726" font-size="6.34" text-anchor="middle" fill="#4a4a4a" dominant-baseline="middle" textLength="2.96" lengthAdjust="spacingAndGlyphs" transform="rotate(-90 275 726)">7</text>
<polygon points="53,70.0 98.3,50.5 217.2,61.5 168,72.5" fill="#6e7073" stroke="none" stroke-width="0.6"/>
<polygon points="53,70.0 168,72.5 168,77.5 53,73.5" fill="#7e8184" stroke="none" stroke-width="0.6"/>
<polygon points="168,77.3 217.2,62 217.2,122.7 168,140" fill="#e2e2e2" stroke="none" stroke-width="0.6"/>
<polygon points="168,77.3 177,74.5 177,136.8 168,140" fill="#eaeaea" stroke="none" stroke-width="0.6"/>
<polygon points="168,72.5 217.2,61.5 217.2,63 177,78.6 168,77.3" fill="#5a5d60" stroke="none" stroke-width="0.6"/>
<polygon points="177,78.6 214.5,61.8 214.5,75.3 177,90.5" fill="#3a3c3e" stroke="none" stroke-width="0.6"/>
<line x1="178.5" y1="77.525" x2="178.5" y2="89.48500000000001" stroke="#686a6c" stroke-width="0.9"/>
<line x1="182.2" y1="75.86000000000001" x2="182.2" y2="87.96800000000002" stroke="#686a6c" stroke-width="0.9"/>
<line x1="185.9" y1="74.195" x2="185.9" y2="86.451" stroke="#686a6c" stroke-width="0.9"/>
<line x1="189.6" y1="72.53" x2="189.6" y2="84.93400000000001" stroke="#686a6c" stroke-width="0.9"/>
<line x1="193.3" y1="70.865" x2="193.3" y2="83.417" stroke="#686a6c" stroke-width="0.9"/>
<line x1="197.0" y1="69.2" x2="197.0" y2="81.9" stroke="#686a6c" stroke-width="0.9"/>
<line x1="200.7" y1="67.53500000000001" x2="200.7" y2="80.38300000000001" stroke="#686a6c" stroke-width="0.9"/>
<line x1="204.4" y1="65.87" x2="204.4" y2="78.86600000000001" stroke="#686a6c" stroke-width="0.9"/>
<line x1="208.1" y1="64.20500000000001" x2="208.1" y2="77.34900000000002" stroke="#686a6c" stroke-width="0.9"/>
<line x1="211.8" y1="62.54" x2="211.8" y2="75.832" stroke="#686a6c" stroke-width="0.9"/>
<polygon points="170,140.5 218,122 219,124.5 172,143" fill="#c4c4c4" stroke="none" stroke-width="0.6"/>
<polygon points="53,73.5 168,77.5 168,139.5 98,136 98,131.7 53,131.7" fill="#f2f2f2" stroke="none" stroke-width="0.6"/>
<rect x="58" y="76" width="4.2" height="16.8" fill="#3db060" stroke="none" stroke-width="0.6" />
<rect x="62.2" y="76" width="3.8" height="16.8" fill="#505050" stroke="none" stroke-width="0.6" />
<rect x="59.2" y="77.5" width="2" height="1.8" fill="#1e5a30" stroke="none" stroke-width="0.6" />
<rect x="59.2" y="80.6" width="2" height="1.8" fill="#1e5a30" stroke="none" stroke-width="0.6" />
<rect x="59.2" y="83.7" width="2" height="1.8" fill="#1e5a30" stroke="none" stroke-width="0.6" />
<rect x="59.2" y="86.8" width="2" height="1.8" fill="#1e5a30" stroke="none" stroke-width="0.6" />
<rect x="59.2" y="89.9" width="2" height="1.8" fill="#1e5a30" stroke="none" stroke-width="0.6" />
<rect x="67.8" y="74.2" width="16.1" height="21.6" fill="#e4e4e4" stroke="#c0c0c0" stroke-width="0.6" rx="1.5"/>
<rect x="70" y="77.1" width="11" height="6.8" fill="#4a4a4c" stroke="#8a8a8a" stroke-width="0.5" rx="1.8"/>
<rect x="70" y="87.1" width="11" height="6.8" fill="#4a4a4c" stroke="#8a8a8a" stroke-width="0.5" rx="1.8"/>
<rect x="86.7" y="77.5" width="7.7" height="19.5" fill="#e6e6e6" stroke="#b8b8b8" stroke-width="0.4" />
<rect x="87.9" y="78.5" width="5.3" height="5.6" fill="#262626" stroke="none" stroke-width="0.6" />
<rect x="89.0" y="79.1" width="3.1" height="1.4" fill="#9a9a9a" stroke="none" stroke-width="0.6" />
<rect x="87.5" y="85.0" width="6.1" height="3.2" fill="#2f62b8" stroke="none" stroke-width="0.6" />
<rect x="87.5" y="89.4" width="6.1" height="3.2" fill="#2f62b8" stroke="none" stroke-width="0.6" />
<rect x="87.2" y="94.1" width="6.7" height="2.2" fill="#5a5a5a" stroke="none" stroke-width="0.6" />
<rect x="98.6" y="77.5" width="7.7" height="19.5" fill="#e6e6e6" stroke="#b8b8b8" stroke-width="0.4" />
<rect x="99.8" y="78.5" width="5.3" height="5.6" fill="#262626" stroke="none" stroke-width="0.6" />
<rect x="100.89999999999999" y="79.1" width="3.1" height="1.4" fill="#9a9a9a" stroke="none" stroke-width="0.6" />
<rect x="99.39999999999999" y="85.0" width="6.1" height="3.2" fill="#2f62b8" stroke="none" stroke-width="0.6" />
<rect x="99.39999999999999" y="89.4" width="6.1" height="3.2" fill="#2f62b8" stroke="none" stroke-width="0.6" />
<rect x="99.1" y="94.1" width="6.7" height="2.2" fill="#5a5a5a" stroke="none" stroke-width="0.6" />
<rect x="110.2" y="77.5" width="7.7" height="19.5" fill="#e6e6e6" stroke="#b8b8b8" stroke-width="0.4" />
<rect x="111.4" y="78.5" width="5.3" height="5.6" fill="#262626" stroke="none" stroke-width="0.6" />
<rect x="112.5" y="79.1" width="3.1" height="1.4" fill="#9a9a9a" stroke="none" stroke-width="0.6" />
<rect x="111.0" y="85.0" width="6.1" height="3.2" fill="#2f62b8" stroke="none" stroke-width="0.6" />
<rect x="111.0" y="89.4" width="6.1" height="3.2" fill="#2f62b8" stroke="none" stroke-width="0.6" />
<rect x="110.7" y="94.1" width="6.7" height="2.2" fill="#5a5a5a" stroke="none" stroke-width="0.6" />
<rect x="119" y="80" width="22" height="23" fill="#e8e8e8" stroke="#c8c8c8" stroke-width="0.6" rx="2"/>
<rect x="126" y="80.5" width="8" height="2.2" fill="#4a4a4a" stroke="none" stroke-width="0.6" />
<rect x="123.8" y="85.4" width="9.2" height="5.2" fill="#3a6cd0" stroke="#8a8a8a" stroke-width="0.4" rx="1.5"/>
<rect x="120.4" y="93.4" width="19" height="5.8" fill="#f4f4f4" stroke="#8a8a8a" stroke-width="0.6" />
<rect x="126" y="100.6" width="8" height="2.4" fill="#4a4a4a" stroke="none" stroke-width="0.6" />
<circle cx="144" cy="82.3" r="1.4" fill="#666" stroke="none" stroke-width="0.6"/>
<circle cx="144" cy="86.8" r="1.6" fill="#444" stroke="none" stroke-width="0.6"/>
<rect x="142.9" y="90.6" width="2.9" height="8" fill="#262626" stroke="none" stroke-width="0.6" />
<rect x="142.3" y="100" width="4" height="2.4" fill="#555" stroke="none" stroke-width="0.6" />
<rect x="148" y="80.8" width="19" height="2.4" fill="#e8703a" stroke="none" stroke-width="0.6" />
<rect x="148" y="83.2" width="19" height="2.8" fill="#a0a0a0" stroke="none" stroke-width="0.6" />
<rect x="148.5" y="87.5" width="3" height="1.8" fill="#777" stroke="none" stroke-width="0.6" />
<rect x="152.5" y="87.5" width="3" height="1.8" fill="#777" stroke="none" stroke-width="0.6" />
<circle cx="150" cy="91.8" r="1.6" fill="#222" stroke="none" stroke-width="0.6"/>
<circle cx="150" cy="97.6" r="1.6" fill="#222" stroke="none" stroke-width="0.6"/>
<circle cx="155" cy="92" r="0.9" fill="#3c3" stroke="none" stroke-width="0.6"/>
<circle cx="155.5" cy="98" r="2.3" fill="#4a3030" stroke="#222" stroke-width="0.5"/>
<rect x="148.5" y="100.8" width="3" height="1.8" fill="#777" stroke="none" stroke-width="0.6" />
<rect x="152.5" y="100.8" width="3" height="1.8" fill="#777" stroke="none" stroke-width="0.6" />
<rect x="160.7" y="87.7" width="3.5" height="13.8" fill="#3ec060" stroke="none" stroke-width="0.6" />
<rect x="164.4" y="88.5" width="2.2" height="11.5" fill="#555" stroke="none" stroke-width="0.6" />
<rect x="58" y="96.5" width="39.5" height="21" fill="#ececec" stroke="#c4c4c4" stroke-width="0.6" />
<circle cx="95.6" cy="102.6" r="1.9" fill="#222" stroke="none" stroke-width="0.6"/>
<circle cx="75.2" cy="115.6" r="1.9" fill="#222" stroke="none" stroke-width="0.6"/>
<text x="61.5" y="104.5" font-size="2.93" text-anchor="start" fill="#4a4a4a"  textLength="19.84" lengthAdjust="spacingAndGlyphs">Option Wireless</text>
<line x1="61.5" y1="106.5" x2="79" y2="106.5" stroke="#aaa" stroke-width="0.5"/>
<rect x="57.0" y="117.6" width="1.3" height="1.3" fill="#3a3a3a" stroke="none" stroke-width="0.6" />
<rect x="60.1" y="117.6" width="1.3" height="1.3" fill="#3a3a3a" stroke="none" stroke-width="0.6" />
<rect x="63.2" y="117.6" width="1.3" height="1.3" fill="#3a3a3a" stroke="none" stroke-width="0.6" />
<rect x="66.3" y="117.6" width="1.3" height="1.3" fill="#3a3a3a" stroke="none" stroke-width="0.6" />
<rect x="69.4" y="117.6" width="1.3" height="1.3" fill="#3a3a3a" stroke="none" stroke-width="0.6" />
<rect x="72.5" y="117.6" width="1.3" height="1.3" fill="#3a3a3a" stroke="none" stroke-width="0.6" />
<rect x="75.6" y="117.6" width="1.3" height="1.3" fill="#3a3a3a" stroke="none" stroke-width="0.6" />
<rect x="78.7" y="117.6" width="1.3" height="1.3" fill="#3a3a3a" stroke="none" stroke-width="0.6" />
<rect x="81.8" y="117.6" width="1.3" height="1.3" fill="#3a3a3a" stroke="none" stroke-width="0.6" />
<rect x="84.9" y="117.6" width="1.3" height="1.3" fill="#3a3a3a" stroke="none" stroke-width="0.6" />
<rect x="88.0" y="117.6" width="1.3" height="1.3" fill="#3a3a3a" stroke="none" stroke-width="0.6" />
<rect x="91.1" y="117.6" width="1.3" height="1.3" fill="#3a3a3a" stroke="none" stroke-width="0.6" />
<rect x="94.2" y="117.6" width="1.3" height="1.3" fill="#3a3a3a" stroke="none" stroke-width="0.6" />
<rect x="56.7" y="121.2" width="22.9" height="4.9" fill="#2c2c2c" stroke="none" stroke-width="0.6" />
<rect x="56.7" y="126.1" width="22.9" height="1.6" fill="#e2784a" stroke="none" stroke-width="0.6" />
<rect x="81.0" y="121.2" width="1.3" height="1.3" fill="#555" stroke="none" stroke-width="0.6" />
<rect x="83.9" y="121.2" width="1.3" height="1.3" fill="#555" stroke="none" stroke-width="0.6" />
<rect x="86.8" y="121.2" width="1.3" height="1.3" fill="#555" stroke="none" stroke-width="0.6" />
<rect x="89.7" y="121.2" width="1.3" height="1.3" fill="#555" stroke="none" stroke-width="0.6" />
<rect x="92.6" y="121.2" width="1.3" height="1.3" fill="#555" stroke="none" stroke-width="0.6" />
<rect x="95.5" y="121.2" width="1.3" height="1.3" fill="#555" stroke="none" stroke-width="0.6" />
<rect x="81.0" y="124.2" width="1.3" height="1.3" fill="#555" stroke="none" stroke-width="0.6" />
<rect x="83.9" y="124.2" width="1.3" height="1.3" fill="#555" stroke="none" stroke-width="0.6" />
<rect x="86.8" y="124.2" width="1.3" height="1.3" fill="#555" stroke="none" stroke-width="0.6" />
<rect x="89.7" y="124.2" width="1.3" height="1.3" fill="#555" stroke="none" stroke-width="0.6" />
<rect x="92.6" y="124.2" width="1.3" height="1.3" fill="#555" stroke="none" stroke-width="0.6" />
<rect x="95.5" y="124.2" width="1.3" height="1.3" fill="#555" stroke="none" stroke-width="0.6" />
<rect x="81.0" y="127.2" width="1.3" height="1.3" fill="#555" stroke="none" stroke-width="0.6" />
<rect x="83.9" y="127.2" width="1.3" height="1.3" fill="#555" stroke="none" stroke-width="0.6" />
<rect x="86.8" y="127.2" width="1.3" height="1.3" fill="#555" stroke="none" stroke-width="0.6" />
<rect x="89.7" y="127.2" width="1.3" height="1.3" fill="#555" stroke="none" stroke-width="0.6" />
<rect x="92.6" y="127.2" width="1.3" height="1.3" fill="#555" stroke="none" stroke-width="0.6" />
<rect x="95.5" y="127.2" width="1.3" height="1.3" fill="#555" stroke="none" stroke-width="0.6" />
<defs><linearGradient id="sh1" x1="0" x2="1" y1="0" y2="0"><stop offset="0" stop-color="#b8b8b8"/><stop offset="0.25" stop-color="#e8e8e8"/><stop offset="1" stop-color="#f6f6f6"/></linearGradient></defs>
<rect x="98" y="101.4" width="8.7" height="34" fill="#f8f8f8" stroke="#d8d8d8" stroke-width="0.4" />
<rect x="106.7" y="101.4" width="61" height="38" fill="url(#sh1)" stroke="none" stroke-width="0.6" />
<line x1="106.7" y1="108.4" x2="162" y2="108.4" stroke="#cfcfcf" stroke-width="0.9"/>
<line x1="106.7" y1="117.7" x2="162" y2="117.7" stroke="#cfcfcf" stroke-width="0.9"/>
<line x1="106.7" y1="126.9" x2="162" y2="126.9" stroke="#cfcfcf" stroke-width="0.9"/>
<line x1="106.7" y1="136" x2="162" y2="136" stroke="#cfcfcf" stroke-width="0.9"/>
<rect x="163.8" y="112" width="1.2" height="7.5" fill="#333" stroke="none" stroke-width="0.6" />
<rect x="163.8" y="123.5" width="1.2" height="8.5" fill="#333" stroke="none" stroke-width="0.6" />
<polygon points="45,129 53,127 53,132 47,133.5" fill="#b4b4b4" stroke="none" stroke-width="0.6"/>
<polygon points="48,467.5 108.4,442.6 226.1,453.2 166,474.5" fill="#6c6f72" stroke="none" stroke-width="0.6"/>
<polygon points="84.5,455.3 199.8,466.4 200.5,468.5 86,457.5" fill="#8a8d90" stroke="none" stroke-width="0.6"/>
<polygon points="48,467.5 166,474.5 166,479 48,471.5" fill="#7e8184" stroke="none" stroke-width="0.6"/>
<polygon points="166,479 227,453 227,519.5 166,543" fill="#e0e0e0" stroke="none" stroke-width="0.6"/>
<polygon points="166,478 175,474.5 175,540.2 166,543" fill="#eaeaea" stroke="none" stroke-width="0.6"/>
<polygon points="166,474.5 226.1,453.2 226.1,455 175,476.9 166,479" fill="#5a5d60" stroke="none" stroke-width="0.6"/>
<polygon points="175,476.9 226.1,453.2 226.1,469.6 175,492" fill="#37393b" stroke="none" stroke-width="0.6"/>
<line x1="176.5" y1="476.20399999999995" x2="176.5" y2="491.20399999999995" stroke="#646668" stroke-width="0.8"/>
<line x1="180.1" y1="474.5336" x2="180.1" y2="489.5336" stroke="#646668" stroke-width="0.8"/>
<line x1="183.7" y1="472.8632" x2="183.7" y2="487.8632" stroke="#646668" stroke-width="0.8"/>
<line x1="187.3" y1="471.1928" x2="187.3" y2="486.1928" stroke="#646668" stroke-width="0.8"/>
<line x1="190.9" y1="469.52239999999995" x2="190.9" y2="484.52239999999995" stroke="#646668" stroke-width="0.8"/>
<line x1="194.5" y1="467.852" x2="194.5" y2="482.852" stroke="#646668" stroke-width="0.8"/>
<line x1="198.1" y1="466.1816" x2="198.1" y2="481.1816" stroke="#646668" stroke-width="0.8"/>
<line x1="201.7" y1="464.5112" x2="201.7" y2="479.5112" stroke="#646668" stroke-width="0.8"/>
<line x1="205.3" y1="462.84079999999994" x2="205.3" y2="477.84079999999994" stroke="#646668" stroke-width="0.8"/>
<line x1="208.9" y1="461.1704" x2="208.9" y2="476.1704" stroke="#646668" stroke-width="0.8"/>
<line x1="212.5" y1="459.5" x2="212.5" y2="474.5" stroke="#646668" stroke-width="0.8"/>
<line x1="216.1" y1="457.82959999999997" x2="216.1" y2="472.82959999999997" stroke="#646668" stroke-width="0.8"/>
<line x1="219.7" y1="456.1592" x2="219.7" y2="471.1592" stroke="#646668" stroke-width="0.8"/>
<line x1="223.3" y1="454.48879999999997" x2="223.3" y2="469.48879999999997" stroke="#646668" stroke-width="0.8"/>
<line x1="199.8" y1="466.4" x2="199.8" y2="479" stroke="#8a8d90" stroke-width="1.2"/>
<circle cx="197" cy="482" r="0.8" fill="#888" stroke="none" stroke-width="0.6"/>
<circle cx="215" cy="476" r="0.8" fill="#888" stroke="none" stroke-width="0.6"/>
<circle cx="182" cy="500" r="0.8" fill="#888" stroke="none" stroke-width="0.6"/>
<circle cx="217" cy="503" r="0.8" fill="#888" stroke="none" stroke-width="0.6"/>
<circle cx="197" cy="515" r="0.8" fill="#888" stroke="none" stroke-width="0.6"/>
<circle cx="217" cy="510" r="0.8" fill="#888" stroke="none" stroke-width="0.6"/>
<polygon points="165,543 227,519.5 229,521.5 229,524.5 168,547.5 165,546" fill="#d6d6d6" stroke="none" stroke-width="0.6"/>
<line x1="168" y1="545.5" x2="228" y2="522.5" stroke="#9a9a9a" stroke-width="0.7"/>
<polygon points="48,471.5 166,479 166,542.7 91,540 91,533 48,533" fill="#f2f2f2" stroke="none" stroke-width="0.6"/>
<rect x="52.7" y="477.1" width="4.6" height="18.5" fill="#3db060" stroke="none" stroke-width="0.6" />
<rect x="57.3" y="477.1" width="3.7" height="18.5" fill="#505050" stroke="none" stroke-width="0.6" />
<rect x="54" y="478.8" width="2" height="1.9" fill="#1e5a30" stroke="none" stroke-width="0.6" />
<rect x="54" y="482.2" width="2" height="1.9" fill="#1e5a30" stroke="none" stroke-width="0.6" />
<rect x="54" y="485.6" width="2" height="1.9" fill="#1e5a30" stroke="none" stroke-width="0.6" />
<rect x="54" y="489.0" width="2" height="1.9" fill="#1e5a30" stroke="none" stroke-width="0.6" />
<rect x="54" y="492.40000000000003" width="2" height="1.9" fill="#1e5a30" stroke="none" stroke-width="0.6" />
<rect x="62.5" y="475.4" width="16.7" height="23" fill="#e4e4e4" stroke="#c0c0c0" stroke-width="0.6" rx="1.5"/>
<rect x="65" y="479.4" width="12" height="7.2" fill="#4a4a4c" stroke="#8a8a8a" stroke-width="0.5" rx="1.8"/>
<rect x="65" y="489.4" width="12" height="7.2" fill="#4a4a4c" stroke="#8a8a8a" stroke-width="0.5" rx="1.8"/>
<rect x="82.1" y="479.0" width="7.7" height="19.5" fill="#e6e6e6" stroke="#b8b8b8" stroke-width="0.4" />
<rect x="83.3" y="480.0" width="5.3" height="5.6" fill="#262626" stroke="none" stroke-width="0.6" />
<rect x="84.39999999999999" y="480.6" width="3.1" height="1.4" fill="#9a9a9a" stroke="none" stroke-width="0.6" />
<rect x="82.89999999999999" y="486.5" width="6.1" height="3.2" fill="#2f62b8" stroke="none" stroke-width="0.6" />
<rect x="82.89999999999999" y="490.9" width="6.1" height="3.2" fill="#2f62b8" stroke="none" stroke-width="0.6" />
<rect x="82.6" y="495.6" width="6.7" height="2.2" fill="#5a5a5a" stroke="none" stroke-width="0.6" />
<rect x="94.2" y="479.0" width="7.7" height="19.5" fill="#e6e6e6" stroke="#b8b8b8" stroke-width="0.4" />
<rect x="95.4" y="480.0" width="5.3" height="5.6" fill="#262626" stroke="none" stroke-width="0.6" />
<rect x="96.5" y="480.6" width="3.1" height="1.4" fill="#9a9a9a" stroke="none" stroke-width="0.6" />
<rect x="95.0" y="486.5" width="6.1" height="3.2" fill="#2f62b8" stroke="none" stroke-width="0.6" />
<rect x="95.0" y="490.9" width="6.1" height="3.2" fill="#2f62b8" stroke="none" stroke-width="0.6" />
<rect x="94.7" y="495.6" width="6.7" height="2.2" fill="#5a5a5a" stroke="none" stroke-width="0.6" />
<rect x="105.8" y="479.0" width="7.7" height="19.5" fill="#e6e6e6" stroke="#b8b8b8" stroke-width="0.4" />
<rect x="107.0" y="480.0" width="5.3" height="5.6" fill="#262626" stroke="none" stroke-width="0.6" />
<rect x="108.1" y="480.6" width="3.1" height="1.4" fill="#9a9a9a" stroke="none" stroke-width="0.6" />
<rect x="106.6" y="486.5" width="6.1" height="3.2" fill="#2f62b8" stroke="none" stroke-width="0.6" />
<rect x="106.6" y="490.9" width="6.1" height="3.2" fill="#2f62b8" stroke="none" stroke-width="0.6" />
<rect x="106.3" y="495.6" width="6.7" height="2.2" fill="#5a5a5a" stroke="none" stroke-width="0.6" />
<rect x="115.8" y="483.4" width="20.4" height="21.1" fill="#e8e8e8" stroke="#c8c8c8" stroke-width="0.6" rx="2"/>
<rect x="123" y="483.5" width="7" height="2.0" fill="#4a4a4a" stroke="none" stroke-width="0.6" />
<rect x="121" y="488" width="9.3" height="4.4" fill="#3a6cd0" stroke="#8a8a8a" stroke-width="0.4" rx="1.5"/>
<rect x="117.8" y="496" width="17.8" height="5.2" fill="#f4f4f4" stroke="#8a8a8a" stroke-width="0.6" />
<rect x="123" y="502.5" width="7" height="2.2" fill="#4a4a4a" stroke="none" stroke-width="0.6" />
<circle cx="140.5" cy="484.5" r="1.3" fill="#666" stroke="none" stroke-width="0.6"/>
<circle cx="140.5" cy="488.8" r="1.5" fill="#444" stroke="none" stroke-width="0.6"/>
<rect x="138.9" y="493.3" width="3.9" height="7.9" fill="#262626" stroke="none" stroke-width="0.6" />
<rect x="138.5" y="503" width="4.5" height="2.2" fill="#555" stroke="none" stroke-width="0.6" />
<rect x="144.1" y="481.5" width="19.1" height="2.3" fill="#e8703a" stroke="none" stroke-width="0.6" />
<rect x="144.1" y="483.8" width="19.1" height="2.9" fill="#a0a0a0" stroke="none" stroke-width="0.6" />
<rect x="145" y="489" width="3" height="1.8" fill="#777" stroke="none" stroke-width="0.6" />
<rect x="149" y="489" width="3" height="1.8" fill="#777" stroke="none" stroke-width="0.6" />
<circle cx="147" cy="494" r="1.5" fill="#222" stroke="none" stroke-width="0.6"/>
<circle cx="147" cy="500" r="1.5" fill="#222" stroke="none" stroke-width="0.6"/>
<circle cx="152" cy="494" r="0.9" fill="#3c3" stroke="none" stroke-width="0.6"/>
<circle cx="152" cy="500" r="2.2" fill="#4a3030" stroke="#222" stroke-width="0.5"/>
<rect x="145" y="503" width="3" height="1.8" fill="#777" stroke="none" stroke-width="0.6" />
<rect x="149" y="503" width="3" height="1.8" fill="#777" stroke="none" stroke-width="0.6" />
<rect x="157.3" y="490" width="4" height="12.5" fill="#3ec060" stroke="none" stroke-width="0.6" />
<rect x="161.6" y="491" width="2.2" height="11" fill="#555" stroke="none" stroke-width="0.6" />
<rect x="53.8" y="499" width="36.9" height="20.2" fill="#ececec" stroke="#c4c4c4" stroke-width="0.6" />
<circle cx="90.2" cy="504.8" r="1.9" fill="#222" stroke="none" stroke-width="0.6"/>
<circle cx="70.6" cy="518.3" r="1.9" fill="#222" stroke="none" stroke-width="0.6"/>
<text x="57" y="507" font-size="2.93" text-anchor="start" fill="#4a4a4a"  textLength="19.84" lengthAdjust="spacingAndGlyphs">Option Wireless</text>
<line x1="57" y1="509" x2="74" y2="509" stroke="#aaa" stroke-width="0.5"/>
<rect x="52.0" y="521" width="1.3" height="1.3" fill="#3a3a3a" stroke="none" stroke-width="0.6" />
<rect x="55.1" y="521" width="1.3" height="1.3" fill="#3a3a3a" stroke="none" stroke-width="0.6" />
<rect x="58.2" y="521" width="1.3" height="1.3" fill="#3a3a3a" stroke="none" stroke-width="0.6" />
<rect x="61.3" y="521" width="1.3" height="1.3" fill="#3a3a3a" stroke="none" stroke-width="0.6" />
<rect x="64.4" y="521" width="1.3" height="1.3" fill="#3a3a3a" stroke="none" stroke-width="0.6" />
<rect x="67.5" y="521" width="1.3" height="1.3" fill="#3a3a3a" stroke="none" stroke-width="0.6" />
<rect x="70.6" y="521" width="1.3" height="1.3" fill="#3a3a3a" stroke="none" stroke-width="0.6" />
<rect x="73.7" y="521" width="1.3" height="1.3" fill="#3a3a3a" stroke="none" stroke-width="0.6" />
<rect x="76.8" y="521" width="1.3" height="1.3" fill="#3a3a3a" stroke="none" stroke-width="0.6" />
<rect x="79.9" y="521" width="1.3" height="1.3" fill="#3a3a3a" stroke="none" stroke-width="0.6" />
<rect x="83.0" y="521" width="1.3" height="1.3" fill="#3a3a3a" stroke="none" stroke-width="0.6" />
<rect x="86.1" y="521" width="1.3" height="1.3" fill="#3a3a3a" stroke="none" stroke-width="0.6" />
<rect x="89.2" y="521" width="1.3" height="1.3" fill="#3a3a3a" stroke="none" stroke-width="0.6" />
<rect x="51.5" y="524.4" width="23.1" height="4.0" fill="#2c2c2c" stroke="none" stroke-width="0.6" />
<rect x="51.5" y="528.4" width="23.1" height="1.6" fill="#e2784a" stroke="none" stroke-width="0.6" />
<rect x="77.0" y="523.5" width="1.3" height="1.3" fill="#555" stroke="none" stroke-width="0.6" />
<rect x="79.9" y="523.5" width="1.3" height="1.3" fill="#555" stroke="none" stroke-width="0.6" />
<rect x="82.8" y="523.5" width="1.3" height="1.3" fill="#555" stroke="none" stroke-width="0.6" />
<rect x="85.7" y="523.5" width="1.3" height="1.3" fill="#555" stroke="none" stroke-width="0.6" />
<rect x="88.6" y="523.5" width="1.3" height="1.3" fill="#555" stroke="none" stroke-width="0.6" />
<rect x="77.0" y="526.6" width="1.3" height="1.3" fill="#555" stroke="none" stroke-width="0.6" />
<rect x="79.9" y="526.6" width="1.3" height="1.3" fill="#555" stroke="none" stroke-width="0.6" />
<rect x="82.8" y="526.6" width="1.3" height="1.3" fill="#555" stroke="none" stroke-width="0.6" />
<rect x="85.7" y="526.6" width="1.3" height="1.3" fill="#555" stroke="none" stroke-width="0.6" />
<rect x="88.6" y="526.6" width="1.3" height="1.3" fill="#555" stroke="none" stroke-width="0.6" />
<rect x="77.0" y="529.7" width="1.3" height="1.3" fill="#555" stroke="none" stroke-width="0.6" />
<rect x="79.9" y="529.7" width="1.3" height="1.3" fill="#555" stroke="none" stroke-width="0.6" />
<rect x="82.8" y="529.7" width="1.3" height="1.3" fill="#555" stroke="none" stroke-width="0.6" />
<rect x="85.7" y="529.7" width="1.3" height="1.3" fill="#555" stroke="none" stroke-width="0.6" />
<rect x="88.6" y="529.7" width="1.3" height="1.3" fill="#555" stroke="none" stroke-width="0.6" />
<rect x="90.7" y="503.6" width="11" height="36.4" fill="#f8f8f8" stroke="#d8d8d8" stroke-width="0.4" />
<defs><linearGradient id="sh2" x1="0" x2="1" y1="0" y2="0"><stop offset="0" stop-color="#b4b4b4"/><stop offset="0.2" stop-color="#e4e4e4"/><stop offset="1" stop-color="#f6f6f6"/></linearGradient></defs>
<rect x="101.7" y="503.6" width="64.3" height="39" fill="url(#sh2)" stroke="none" stroke-width="0.6" />
<line x1="101.7" y1="511" x2="159" y2="511" stroke="#cfcfcf" stroke-width="0.9"/>
<line x1="101.7" y1="521.7" x2="159" y2="521.7" stroke="#cfcfcf" stroke-width="0.9"/>
<line x1="101.7" y1="532.2" x2="159" y2="532.2" stroke="#cfcfcf" stroke-width="0.9"/>
<line x1="101.7" y1="542.5" x2="159" y2="542.5" stroke="#cfcfcf" stroke-width="0.9"/>
<rect x="160.8" y="514" width="1.2" height="8" fill="#333" stroke="none" stroke-width="0.6" />
<rect x="160.8" y="526" width="1.2" height="9" fill="#333" stroke="none" stroke-width="0.6" />
<polygon points="40,533 48,531 48,536 42,537.5" fill="#b4b4b4" stroke="none" stroke-width="0.6"/>
<line x1="64" y1="220.6" x2="206" y2="220.6" stroke="#111" stroke-width="1.3"/>
<polygon points="209.5,220.6 204,218.3 204,222.9" fill="#111" stroke="none" stroke-width="0.6"/>
<line x1="57.3" y1="224" x2="57.3" y2="327.7" stroke="#111" stroke-width="1.3"/>
<polygon points="57.3,218.5 55,224.5 59.6,224.5" fill="#111" stroke="none" stroke-width="0.6"/>
<text x="120" y="218.0" font-size="6.6" text-anchor="start" fill="#222" textLength="21" lengthAdjust="spacingAndGlyphs">210mm</text>
<text x="54.8" y="292.5" font-size="6.6" text-anchor="start" fill="#222" textLength="22" lengthAdjust="spacingAndGlyphs" transform="rotate(-90 54.8 292.5)">120mm</text>
<polygon points="64,227 72,227 76,231 76,318 74,328 72,328 72,235" fill="#c8c8c8" stroke="#999" stroke-width="0.5"/>
<rect x="70" y="276" width="3" height="18" fill="#999" stroke="none" stroke-width="0.6" />
<rect x="77" y="303" width="12" height="7" fill="#1e1e1e" stroke="none" stroke-width="0.6" />
<rect x="103.5" y="303" width="6.5" height="7" fill="#d08a3a" stroke="none" stroke-width="0.6" />
<rect x="113" y="303" width="84" height="5" fill="#1e1e1e" stroke="none" stroke-width="0.6" />
<rect x="123" y="307.6" width="57" height="5.4" fill="#c9812f" stroke="none" stroke-width="0.6" />
<rect x="182.3" y="307.6" width="9.4" height="3.6" fill="#d08a3a" stroke="none" stroke-width="0.6" />
<text x="130" y="307.2" font-size="4.39" text-anchor="start" fill="#ddd" font-weight="bold" textLength="7.17" lengthAdjust="spacingAndGlyphs">AMD</text>
<polygon points="76,224.4 206,224.4 206,260 202.5,270 206,280 206,303.5 76,303.5" fill="#b6b7b9" stroke="none" stroke-width="0.6"/>
<polygon points="76,224.4 93,224.4 90,246 84,258 84,276 90,282 93,303.5 76,303.5" fill="#a8aaac" stroke="none" stroke-width="0.6"/>
<polygon points="78,226 91,226 89,244 78,244" fill="#6a6a6c" stroke="none" stroke-width="0.6"/>
<rect x="80" y="228" width="7.5" height="1.8" fill="#e0e0e0" stroke="none" stroke-width="0.6" />
<rect x="80" y="232" width="7.5" height="1.8" fill="#e0e0e0" stroke="none" stroke-width="0.6" />
<rect x="80" y="236" width="7.5" height="1.8" fill="#e0e0e0" stroke="none" stroke-width="0.6" />
<rect x="80" y="240" width="7.5" height="1.8" fill="#e0e0e0" stroke="none" stroke-width="0.6" />
<polygon points="78,284 91,284 89,302 78,302" fill="#6a6a6c" stroke="none" stroke-width="0.6"/>
<rect x="80" y="286" width="7.5" height="1.8" fill="#e0e0e0" stroke="none" stroke-width="0.6" />
<rect x="80" y="290" width="7.5" height="1.8" fill="#e0e0e0" stroke="none" stroke-width="0.6" />
<rect x="80" y="294" width="7.5" height="1.8" fill="#e0e0e0" stroke="none" stroke-width="0.6" />
<rect x="80" y="298" width="7.5" height="1.8" fill="#e0e0e0" stroke="none" stroke-width="0.6" />
<polygon points="193.5,228 205.5,228 205.5,245 192.5,245" fill="#7a7a7c" stroke="none" stroke-width="0.6"/>
<rect x="195.0" y="229.8" width="9" height="2.0" fill="#ececec" stroke="none" stroke-width="0.6" />
<rect x="195.0" y="233.8" width="9" height="2.0" fill="#ececec" stroke="none" stroke-width="0.6" />
<rect x="195.0" y="237.8" width="9" height="2.0" fill="#ececec" stroke="none" stroke-width="0.6" />
<rect x="195.0" y="241.8" width="9" height="2.0" fill="#ececec" stroke="none" stroke-width="0.6" />
<polygon points="193.5,284 205.5,284 205.5,301 192.5,301" fill="#7a7a7c" stroke="none" stroke-width="0.6"/>
<rect x="195.0" y="285.8" width="9" height="2.0" fill="#ececec" stroke="none" stroke-width="0.6" />
<rect x="195.0" y="289.8" width="9" height="2.0" fill="#ececec" stroke="none" stroke-width="0.6" />
<rect x="195.0" y="293.8" width="9" height="2.0" fill="#ececec" stroke="none" stroke-width="0.6" />
<rect x="195.0" y="297.8" width="9" height="2.0" fill="#ececec" stroke="none" stroke-width="0.6" />
<rect x="96" y="246" width="10" height="1.6" fill="#222" stroke="none" stroke-width="0.6" />
<rect x="102" y="244" width="6" height="1.4" fill="#222" stroke="none" stroke-width="0.6" />
<circle cx="103" cy="283" r="5" fill="#b0b2b4" stroke="#8a8c8e" stroke-width="1"/>
<circle cx="157" cy="263.5" r="40" fill="#c2c3c4" stroke="none" stroke-width="0.6"/>
<circle cx="157" cy="263.5" r="36.4" fill="#3a3a3c" stroke="none" stroke-width="0.6"/>
<circle cx="157" cy="263.5" r="32.8" fill="#8e9092" stroke="none" stroke-width="0.6"/>
<path d="M170.1,263.5 Q179.1,269.0 181.9,284.4 A32.5,32.5 0 0 1 175.1,290.5 Q176.4,275.5 169.7,266.8 Z" fill="#4a4c4e" stroke="#2e2e30" stroke-width="0.6"/>
<path d="M168.0,270.6 Q172.6,280.1 166.6,294.6 A32.5,32.5 0 0 1 157.6,296.0 Q166.8,284.1 165.9,273.1 Z" fill="#4a4c4e" stroke="#2e2e30" stroke-width="0.6"/>
<path d="M162.4,275.4 Q161.2,285.9 148.3,294.8 A32.5,32.5 0 0 1 140.0,291.2 Q154.2,286.1 159.3,276.4 Z" fill="#4a4c4e" stroke="#2e2e30" stroke-width="0.6"/>
<path d="M155.1,276.5 Q148.4,284.6 132.7,285.1 A32.5,32.5 0 0 1 127.7,277.6 Q142.4,281.0 152.0,275.6 Z" fill="#4a4c4e" stroke="#2e2e30" stroke-width="0.6"/>
<path d="M148.4,273.4 Q138.3,276.6 124.9,268.6 A32.5,32.5 0 0 1 124.7,259.5 Q135.2,270.3 146.2,271.0 Z" fill="#4a4c4e" stroke="#2e2e30" stroke-width="0.6"/>
<path d="M144.4,267.2 Q134.2,264.4 127.3,250.4 A32.5,32.5 0 0 1 132.0,242.7 Q135.0,257.5 143.9,263.9 Z" fill="#4a4c4e" stroke="#2e2e30" stroke-width="0.6"/>
<path d="M144.4,259.8 Q137.3,252.0 139.0,236.4 A32.5,32.5 0 0 1 147.2,232.5 Q141.8,246.5 145.7,256.8 Z" fill="#4a4c4e" stroke="#2e2e30" stroke-width="0.6"/>
<path d="M148.4,253.6 Q146.7,243.2 156.5,231.0 A32.5,32.5 0 0 1 165.5,232.1 Q153.3,241.0 151.2,251.8 Z" fill="#4a4c4e" stroke="#2e2e30" stroke-width="0.6"/>
<path d="M155.1,250.5 Q159.3,240.8 174.2,235.9 A32.5,32.5 0 0 1 181.1,241.7 Q166.1,242.6 158.4,250.5 Z" fill="#4a4c4e" stroke="#2e2e30" stroke-width="0.6"/>
<path d="M162.4,251.6 Q171.2,245.7 186.4,249.6 A32.5,32.5 0 0 1 189.1,258.2 Q176.0,250.8 165.2,253.3 Z" fill="#4a4c4e" stroke="#2e2e30" stroke-width="0.6"/>
<path d="M168.0,256.4 Q178.6,256.2 189.2,267.7 A32.5,32.5 0 0 1 186.8,276.4 Q179.8,263.1 169.4,259.4 Z" fill="#4a4c4e" stroke="#2e2e30" stroke-width="0.6"/>
<circle cx="157" cy="263.5" r="13.104" fill="#3c3c3e" stroke="#1a1a1a" stroke-width="0.8"/>
<circle cx="129" cy="241.5" r="2.5" fill="#2a2a2a" stroke="none" stroke-width="0.6"/>
<circle cx="185" cy="241.5" r="2.5" fill="#2a2a2a" stroke="none" stroke-width="0.6"/>
<circle cx="129" cy="285.5" r="2.5" fill="#2a2a2a" stroke="none" stroke-width="0.6"/>
<circle cx="185" cy="285.5" r="2.5" fill="#2a2a2a" stroke="none" stroke-width="0.6"/>
<text x="157" y="265.5" font-size="6.71" text-anchor="middle" fill="#ddd" font-weight="bold" textLength="12.54" lengthAdjust="spacingAndGlyphs">ONDA</text>
<line x1="133" y1="281" x2="140" y2="272" stroke="#c23" stroke-width="0.8"/>
<line x1="53.5" y1="617.5" x2="233" y2="617.5" stroke="#111" stroke-width="1.3"/>
<polygon points="237,617.5 231,615.2 231,619.8" fill="#111" stroke="none" stroke-width="0.6"/>
<line x1="50.8" y1="633" x2="50.8" y2="718" stroke="#111" stroke-width="1.3"/>
<polygon points="50.8,627 48.5,633.5 53.1,633.5" fill="#111" stroke="none" stroke-width="0.6"/>
<text x="132" y="613.3" font-size="9.6" text-anchor="start" fill="#111" textLength="34" lengthAdjust="spacingAndGlyphs" stroke="#111" stroke-width="0.3">260mm</text>
<text x="48.2" y="696.4" font-size="9.6" text-anchor="start" fill="#111" textLength="32.6" lengthAdjust="spacingAndGlyphs" stroke="#111" stroke-width="0.3" transform="rotate(-90 48.2 696.4)">120mm</text>
<polygon points="55,635.5 62,635.5 66.2,637 66.2,697 70,700 68,710 64,718 61.8,718 61.8,640" fill="#a8a4a0" stroke="#7a7670" stroke-width="0.5"/>
<rect x="61.5" y="636.6" width="4" height="3" fill="#222" stroke="none" stroke-width="0.6" />
<rect x="62.5" y="641.0" width="2.4" height="2.6" fill="#f4f4f4" stroke="none" stroke-width="0.6" />
<rect x="62.5" y="646.1" width="2.4" height="2.6" fill="#f4f4f4" stroke="none" stroke-width="0.6" />
<rect x="62.5" y="651.2" width="2.4" height="2.6" fill="#f4f4f4" stroke="none" stroke-width="0.6" />
<rect x="62.5" y="656.3" width="2.4" height="2.6" fill="#f4f4f4" stroke="none" stroke-width="0.6" />
<rect x="62.5" y="661.4" width="2.4" height="2.6" fill="#f4f4f4" stroke="none" stroke-width="0.6" />
<rect x="62.5" y="666.5" width="2.4" height="2.6" fill="#f4f4f4" stroke="none" stroke-width="0.6" />
<rect x="62.5" y="671.6" width="2.4" height="2.6" fill="#f4f4f4" stroke="none" stroke-width="0.6" />
<rect x="62.5" y="676.7" width="2.4" height="2.6" fill="#f4f4f4" stroke="none" stroke-width="0.6" />
<rect x="62.5" y="681.8" width="2.4" height="2.6" fill="#f4f4f4" stroke="none" stroke-width="0.6" />
<rect x="62.5" y="686.9" width="2.4" height="2.6" fill="#f4f4f4" stroke="none" stroke-width="0.6" />
<rect x="62.5" y="692.0" width="2.4" height="2.6" fill="#f4f4f4" stroke="none" stroke-width="0.6" />
<rect x="62.5" y="697.1" width="2.4" height="2.6" fill="#f4f4f4" stroke="none" stroke-width="0.6" />
<rect x="62.5" y="702.2" width="2.4" height="2.6" fill="#f4f4f4" stroke="none" stroke-width="0.6" />
<rect x="62.5" y="707.3" width="2.4" height="2.6" fill="#f4f4f4" stroke="none" stroke-width="0.6" />
<rect x="62.5" y="712.4" width="2.4" height="2.6" fill="#f4f4f4" stroke="none" stroke-width="0.6" />
<rect x="68" y="696" width="100" height="3.2" fill="#2e2c2a" stroke="none" stroke-width="0.6" />
<rect x="72" y="698" width="8" height="3" fill="#6a4a2a" stroke="none" stroke-width="0.6" />
<rect x="100.5" y="699" width="51.5" height="4.2" fill="#d4b04a" stroke="none" stroke-width="0.6" />
<rect x="154" y="699" width="7" height="3.2" fill="#c8b070" stroke="none" stroke-width="0.6" />
<path d="M65,635 L70,629.5 L233,629.5 L236.8,633 L236.8,693 L233.5,696.8 L68,696.8 L65,693 Z" fill="#6c7744"/>
<path d="M65,635 L233,635 L236.8,637 L236.8,691 L233,690.5 L65,690.5 Z" fill="#9ea468"/>
<path d="M78,637.8 L222,637.8 L227.5,642.5 L233.6,642.5 L233.6,652 L231.7,655 L231.7,673 L233.6,676 L233.6,684 L227.5,684 L222,686.5 L78,686.5 L67.6,683 L67.6,676 L70.2,673 L70.2,655 L67.6,652 L67.6,641 Z" fill="#2e3032"/>
<line x1="72" y1="648" x2="229" y2="648" stroke="#383a3c" stroke-width="0.6"/>
<line x1="72" y1="656" x2="229" y2="656" stroke="#383a3c" stroke-width="0.6"/>
<line x1="72" y1="664" x2="229" y2="664" stroke="#383a3c" stroke-width="0.6"/>
<line x1="72" y1="672" x2="229" y2="672" stroke="#383a3c" stroke-width="0.6"/>
<line x1="72" y1="680" x2="229" y2="680" stroke="#383a3c" stroke-width="0.6"/>
<circle cx="109.7" cy="662.8" r="31.9" fill="#151515" stroke="none" stroke-width="0.6"/>
<circle cx="109.7" cy="662.8" r="30.299999999999997" fill="#5a4e44" stroke="none" stroke-width="0.6"/>
<path d="M120.2,662.8 Q129.2,668.4 130.6,684.3 A30.0,30.0 0 0 1 116.3,692.1 Q122.5,678.5 119.0,667.8 Z" fill="#484542" stroke="#77706a" stroke-width="0.6"/>
<path d="M117.8,669.6 Q121.0,679.6 111.9,692.7 A30.0,30.0 0 0 1 95.9,689.4 Q109.5,683.1 113.6,672.6 Z" fill="#484542" stroke="#77706a" stroke-width="0.6"/>
<path d="M111.5,673.2 Q107.6,683.0 92.1,687.1 A30.0,30.0 0 0 1 82.0,674.4 Q96.5,678.2 106.4,672.8 Z" fill="#484542" stroke="#77706a" stroke-width="0.6"/>
<path d="M104.4,671.9 Q95.1,676.9 80.6,670.1 A30.0,30.0 0 0 1 81.1,653.9 Q89.7,666.1 100.7,668.3 Z" fill="#484542" stroke="#77706a" stroke-width="0.6"/>
<path d="M99.8,666.4 Q89.5,664.2 82.7,649.7 A30.0,30.0 0 0 1 93.5,637.5 Q92.3,652.5 99.3,661.3 Z" fill="#484542" stroke="#77706a" stroke-width="0.6"/>
<path d="M99.8,659.2 Q93.3,650.9 97.4,635.4 A30.0,30.0 0 0 1 113.5,633.0 Q103.0,643.7 102.7,654.9 Z" fill="#484542" stroke="#77706a" stroke-width="0.6"/>
<path d="M104.4,653.7 Q104.8,643.1 117.9,633.9 A30.0,30.0 0 0 1 131.8,642.5 Q116.9,643.8 109.4,652.3 Z" fill="#484542" stroke="#77706a" stroke-width="0.6"/>
<path d="M111.5,652.4 Q118.6,644.6 134.5,646.0 A30.0,30.0 0 0 1 139.7,661.4 Q127.4,652.9 116.2,654.5 Z" fill="#484542" stroke="#77706a" stroke-width="0.6"/>
<path d="M117.8,656.0 Q128.2,654.6 139.5,665.9 A30.0,30.0 0 0 1 133.5,681.0 Q129.6,666.6 120.0,660.7 Z" fill="#484542" stroke="#77706a" stroke-width="0.6"/>
<circle cx="109.7" cy="662.8" r="10.527" fill="#2c2c2c" stroke="#1a1a1a" stroke-width="0.8"/>
<circle cx="109.7" cy="662.8" r="10.4" fill="none" stroke="#555" stroke-width="1.0"/>
<text x="109.7" y="664" font-size="3.9" text-anchor="middle" fill="#ddd"  textLength="16.39" lengthAdjust="spacingAndGlyphs">supernova</text>
<circle cx="192.3" cy="662.8" r="31.9" fill="#151515" stroke="none" stroke-width="0.6"/>
<circle cx="192.3" cy="662.8" r="30.299999999999997" fill="#5a4e44" stroke="none" stroke-width="0.6"/>
<path d="M202.8,662.8 Q211.8,668.4 213.2,684.3 A30.0,30.0 0 0 1 198.9,692.1 Q205.1,678.5 201.6,667.8 Z" fill="#484542" stroke="#77706a" stroke-width="0.6"/>
<path d="M200.4,669.6 Q203.6,679.6 194.5,692.7 A30.0,30.0 0 0 1 178.5,689.4 Q192.1,683.1 196.2,672.6 Z" fill="#484542" stroke="#77706a" stroke-width="0.6"/>
<path d="M194.1,673.2 Q190.2,683.0 174.7,687.1 A30.0,30.0 0 0 1 164.6,674.4 Q179.1,678.2 189.0,672.8 Z" fill="#484542" stroke="#77706a" stroke-width="0.6"/>
<path d="M187.0,671.9 Q177.7,676.9 163.2,670.1 A30.0,30.0 0 0 1 163.7,653.9 Q172.3,666.1 183.3,668.3 Z" fill="#484542" stroke="#77706a" stroke-width="0.6"/>
<path d="M182.4,666.4 Q172.1,664.2 165.3,649.7 A30.0,30.0 0 0 1 176.1,637.5 Q174.9,652.5 181.9,661.3 Z" fill="#484542" stroke="#77706a" stroke-width="0.6"/>
<path d="M182.4,659.2 Q175.9,650.9 180.0,635.4 A30.0,30.0 0 0 1 196.1,633.0 Q185.6,643.7 185.3,654.9 Z" fill="#484542" stroke="#77706a" stroke-width="0.6"/>
<path d="M187.0,653.7 Q187.4,643.1 200.5,633.9 A30.0,30.0 0 0 1 214.4,642.5 Q199.5,643.8 192.0,652.3 Z" fill="#484542" stroke="#77706a" stroke-width="0.6"/>
<path d="M194.1,652.4 Q201.2,644.6 217.1,646.0 A30.0,30.0 0 0 1 222.3,661.4 Q210.0,652.9 198.8,654.5 Z" fill="#484542" stroke="#77706a" stroke-width="0.6"/>
<path d="M200.4,656.0 Q210.8,654.6 222.1,665.9 A30.0,30.0 0 0 1 216.1,681.0 Q212.2,666.6 202.6,660.7 Z" fill="#484542" stroke="#77706a" stroke-width="0.6"/>
<circle cx="192.3" cy="662.8" r="10.527" fill="#2c2c2c" stroke="#1a1a1a" stroke-width="0.8"/>
<circle cx="192.3" cy="662.8" r="10.4" fill="none" stroke="#555" stroke-width="1.0"/>
<text x="192.3" y="664" font-size="3.9" text-anchor="middle" fill="#ddd"  textLength="16.39" lengthAdjust="spacingAndGlyphs">supernova</text>
<text x="72.5" y="176.8" font-size="15" fill="#111" textLength="127.3" lengthAdjust="spacingAndGlyphs">Body length210mm</text><text x="63.0" y="570.0" font-size="15" fill="#111" textLength="127.4" lengthAdjust="spacingAndGlyphs">Body length260mm</text><text x="44.9" y="370.8" font-size="15.2" fill="#111" textLength="507.5" lengthAdjust="spacingAndGlyphs">The body length is 210mm, and graphics cards within 210mm can be installed.</text><text x="44.9" y="386.8" font-size="15.2" fill="#111" textLength="505.4" lengthAdjust="spacingAndGlyphs">If the independent graphics card needs independent power supply, the power</text><text x="44.9" y="402.9" font-size="15.2" fill="#111" textLength="516.1" lengthAdjust="spacingAndGlyphs">supply capacity needs to be improved before leaving the factory. Please explain</text><text x="44.9" y="419.0" font-size="15.2" fill="#111" textLength="157.8" lengthAdjust="spacingAndGlyphs">the situation in advance.</text><text x="57.5" y="754.8" font-size="11.5" fill="#111" textLength="485.7" lengthAdjust="spacingAndGlyphs">The body length is 260mm, and graphics cards within 260mm in length can be installed. If</text><text x="57.5" y="768.6" font-size="11.5" fill="#111" textLength="498.1" lengthAdjust="spacingAndGlyphs">the independent graphics card needs independent power supply, the power supply capacity</text><text x="57.5" y="781.8" font-size="11.5" fill="#111" textLength="477.5" lengthAdjust="spacingAndGlyphs">needs to be improved before leaving the factory. Please explain the situation in advance.</text>
</svg>
</body></html>
